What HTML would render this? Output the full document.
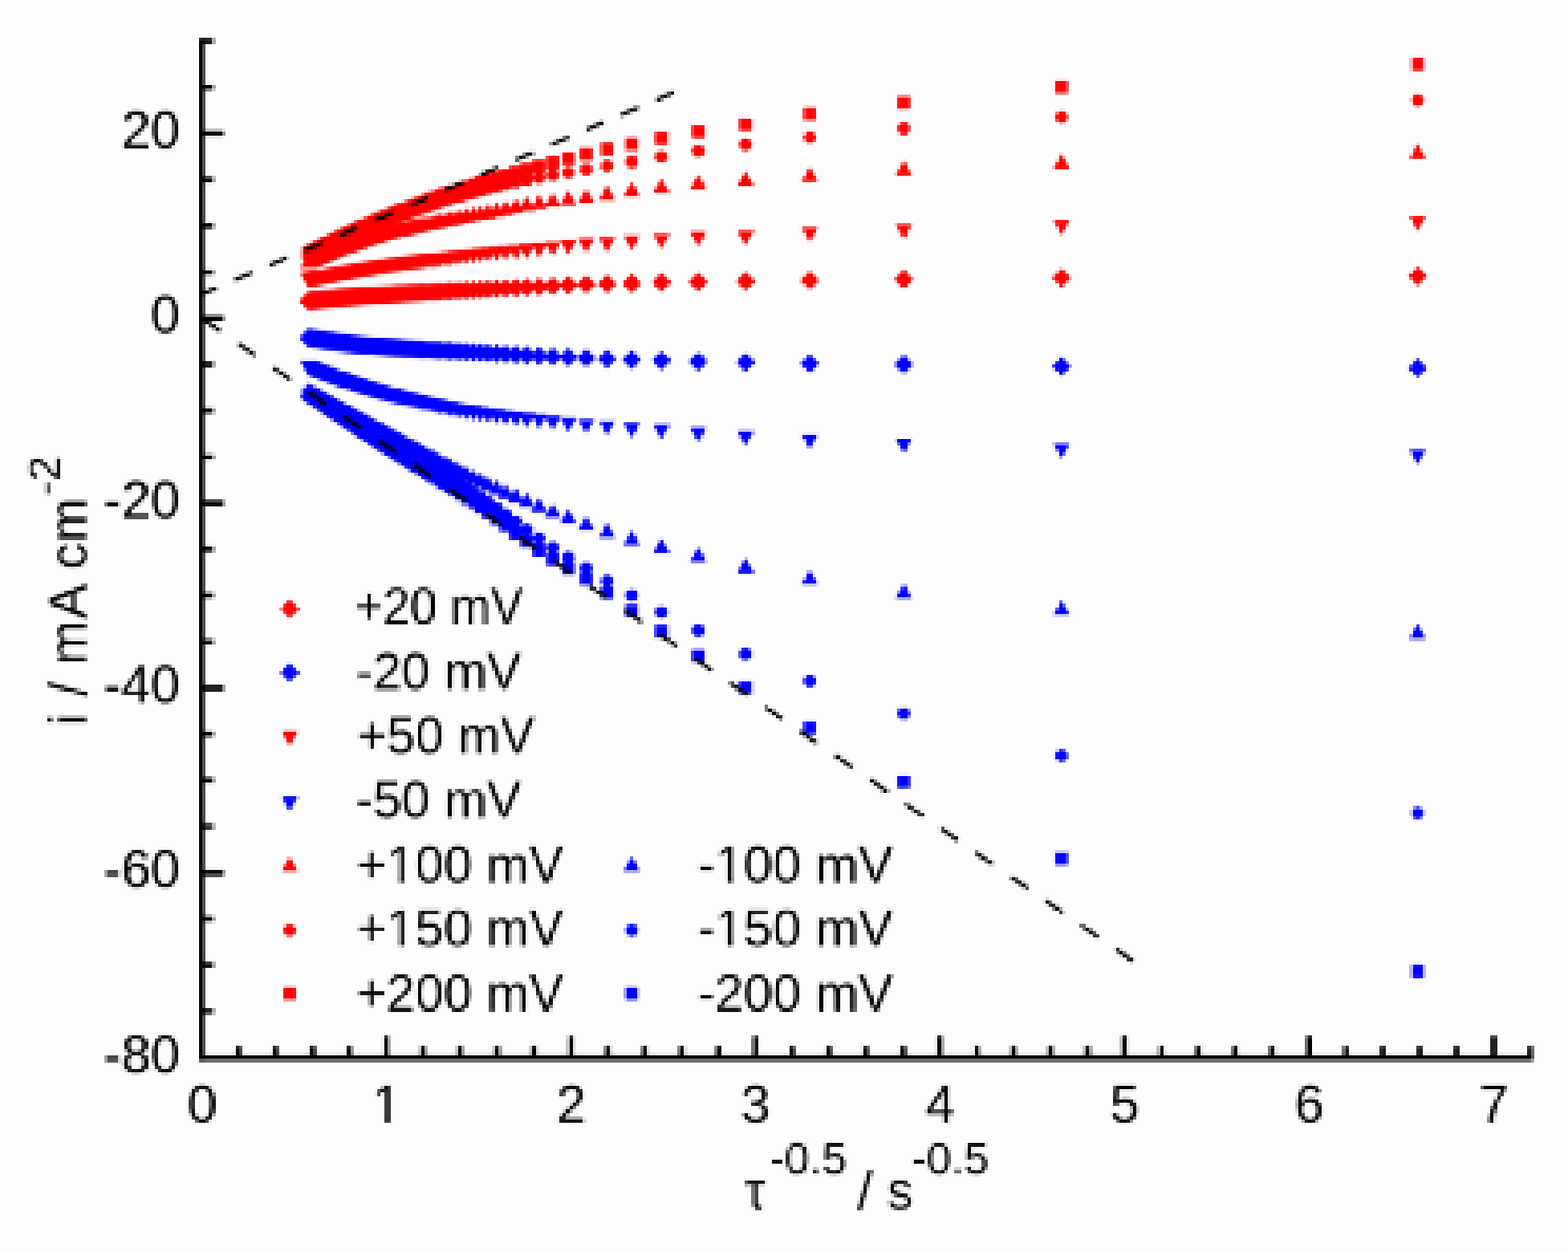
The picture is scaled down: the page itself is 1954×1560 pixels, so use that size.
<!DOCTYPE html>
<html lang="en">
<head>
<meta charset="utf-8">
<title>i / mA cm-2 vs tau-0.5 / s-0.5</title>
<style>
html,body{margin:0;padding:0;background:#fdfdfd;}
body{width:1954px;height:1560px;overflow:hidden;}
svg{display:block;}
text{font-family:"Liberation Sans",Arial,Helvetica,sans-serif;fill:#000;}
.t{font-size:66px;}
.l{font-size:65px;}
.s{font-size:56px;}
</style>
</head>
<body>
<svg width="1954" height="1560" viewBox="0 0 1954 1560">
<defs>
<filter id="b" filterUnits="userSpaceOnUse" primitiveUnits="userSpaceOnUse" x="0" y="0" width="1954" height="1560" color-interpolation-filters="sRGB">
<feGaussianBlur in="SourceGraphic" stdDeviation="1.2" result="avg"/>
<feFlood flood-color="#000" x="2" y="1" width="1" height="21" result="v0"/>
<feFlood flood-color="#000" x="6" y="1" width="1" height="21" result="v1"/>
<feFlood flood-color="#000" x="10" y="1" width="1" height="21" result="v2"/>
<feFlood flood-color="#000" x="14" y="1" width="1" height="21" result="v3"/>
<feFlood flood-color="#000" x="19" y="1" width="1" height="21" result="v4"/>
<feMerge result="vs"><feMergeNode in="v0"/><feMergeNode in="v1"/><feMergeNode in="v2"/><feMergeNode in="v3"/><feMergeNode in="v4"/></feMerge>
<feFlood flood-color="#000" x="0" y="3" width="21" height="1" result="h0"/>
<feFlood flood-color="#000" x="0" y="7" width="21" height="1" result="h1"/>
<feFlood flood-color="#000" x="0" y="11" width="21" height="1" result="h2"/>
<feFlood flood-color="#000" x="0" y="15" width="21" height="1" result="h3"/>
<feFlood flood-color="#000" x="0" y="19" width="21" height="1" result="h4"/>
<feMerge result="hs"><feMergeNode in="h0"/><feMergeNode in="h1"/><feMergeNode in="h2"/><feMergeNode in="h3"/><feMergeNode in="h4"/></feMerge>
<feComposite in="vs" in2="hs" operator="in" x="0" y="1" width="21" height="21" result="cell"/>
<feTile in="cell" x="0" y="1" width="967" height="21" result="blk"/>
<feTile in="blk" x="0" y="0" width="1954" height="1560" result="grid"/>
<feComposite in="avg" in2="grid" operator="in" result="A"/>
<feOffset in="A" dx="2" dy="0" result="x1"/><feOffset in="A" dx="-2" dy="0" result="x2"/><feOffset in="A" dx="-1" dy="0" result="x3"/><feOffset in="A" dx="1" dy="0" result="x4"/>
<feMerge result="Hm"><feMergeNode in="x1"/><feMergeNode in="x2"/><feMergeNode in="x3"/><feMergeNode in="x4"/><feMergeNode in="A"/></feMerge>
<feOffset in="Hm" dx="0" dy="2" result="y1"/><feOffset in="Hm" dx="0" dy="-2" result="y2"/><feOffset in="Hm" dx="0" dy="-1" result="y3"/><feOffset in="Hm" dx="0" dy="1" result="y4"/>
<feMerge result="pix"><feMergeNode in="avg"/><feMergeNode in="y1"/><feMergeNode in="y2"/><feMergeNode in="y3"/><feMergeNode in="y4"/><feMergeNode in="Hm"/></feMerge>
<feGaussianBlur in="pix" stdDeviation="0.45"/>
</filter>
</defs>
<g filter="url(#b)"><g transform="translate(0.4 0.4)">
<rect x="-20" y="-20" width="1994" height="1600" fill="#fdfdfd"/>
<path fill="#ff0000" d="M384.4 363.2l11.8 11.8l-11.8 11.8l-11.8 -11.8zM384.9 363.1l11.8 11.8l-11.8 11.8l-11.8 -11.8zM385.4 363.1l11.8 11.8l-11.8 11.8l-11.8 -11.8zM385.9 363l11.8 11.8l-11.8 11.8l-11.8 -11.8zM386.5 363l11.8 11.8l-11.8 11.8l-11.8 -11.8zM387 362.9l11.8 11.8l-11.8 11.8l-11.8 -11.8zM387.6 362.9l11.8 11.8l-11.8 11.8l-11.8 -11.8zM388.1 362.8l11.8 11.8l-11.8 11.8l-11.8 -11.8zM388.7 362.8l11.8 11.8l-11.8 11.8l-11.8 -11.8zM389.2 362.7l11.8 11.8l-11.8 11.8l-11.8 -11.8zM389.8 362.7l11.8 11.8l-11.8 11.8l-11.8 -11.8zM390.4 362.6l11.8 11.8l-11.8 11.8l-11.8 -11.8zM391 362.6l11.8 11.8l-11.8 11.8l-11.8 -11.8zM391.6 362.5l11.8 11.8l-11.8 11.8l-11.8 -11.8zM392.2 362.4l11.8 11.8l-11.8 11.8l-11.8 -11.8zM392.8 362.4l11.8 11.8l-11.8 11.8l-11.8 -11.8zM393.4 362.3l11.8 11.8l-11.8 11.8l-11.8 -11.8zM394 362.3l11.8 11.8l-11.8 11.8l-11.8 -11.8zM394.7 362.2l11.8 11.8l-11.8 11.8l-11.8 -11.8zM395.3 362.1l11.8 11.8l-11.8 11.8l-11.8 -11.8zM396 362.1l11.8 11.8l-11.8 11.8l-11.8 -11.8zM396.6 362l11.8 11.8l-11.8 11.8l-11.8 -11.8zM397.3 362l11.8 11.8l-11.8 11.8l-11.8 -11.8zM398 361.9l11.8 11.8l-11.8 11.8l-11.8 -11.8zM398.7 361.8l11.8 11.8l-11.8 11.8l-11.8 -11.8zM399.4 361.8l11.8 11.8l-11.8 11.8l-11.8 -11.8zM400.1 361.7l11.8 11.8l-11.8 11.8l-11.8 -11.8zM400.8 361.6l11.8 11.8l-11.8 11.8l-11.8 -11.8zM401.5 361.6l11.8 11.8l-11.8 11.8l-11.8 -11.8zM402.3 361.5l11.8 11.8l-11.8 11.8l-11.8 -11.8zM403 361.4l11.8 11.8l-11.8 11.8l-11.8 -11.8zM403.8 361.4l11.8 11.8l-11.8 11.8l-11.8 -11.8zM404.6 361.3l11.8 11.8l-11.8 11.8l-11.8 -11.8zM405.3 361.2l11.8 11.8l-11.8 11.8l-11.8 -11.8zM406.1 361.1l11.8 11.8l-11.8 11.8l-11.8 -11.8zM407 361.1l11.8 11.8l-11.8 11.8l-11.8 -11.8zM407.8 361l11.8 11.8l-11.8 11.8l-11.8 -11.8zM408.6 360.9l11.8 11.8l-11.8 11.8l-11.8 -11.8zM409.5 360.8l11.8 11.8l-11.8 11.8l-11.8 -11.8zM410.3 360.8l11.8 11.8l-11.8 11.8l-11.8 -11.8zM411.2 360.7l11.8 11.8l-11.8 11.8l-11.8 -11.8zM412.1 360.6l11.8 11.8l-11.8 11.8l-11.8 -11.8zM413 360.5l11.8 11.8l-11.8 11.8l-11.8 -11.8zM413.9 360.4l11.8 11.8l-11.8 11.8l-11.8 -11.8zM414.9 360.4l11.8 11.8l-11.8 11.8l-11.8 -11.8zM415.8 360.3l11.8 11.8l-11.8 11.8l-11.8 -11.8zM416.8 360.2l11.8 11.8l-11.8 11.8l-11.8 -11.8zM417.8 360.1l11.8 11.8l-11.8 11.8l-11.8 -11.8zM418.8 360l11.8 11.8l-11.8 11.8l-11.8 -11.8zM419.8 359.9l11.8 11.8l-11.8 11.8l-11.8 -11.8zM420.9 359.8l11.8 11.8l-11.8 11.8l-11.8 -11.8zM422 359.7l11.8 11.8l-11.8 11.8l-11.8 -11.8zM423.1 359.6l11.8 11.8l-11.8 11.8l-11.8 -11.8zM424.2 359.5l11.8 11.8l-11.8 11.8l-11.8 -11.8zM425.3 359.4l11.8 11.8l-11.8 11.8l-11.8 -11.8zM426.5 359.4l11.8 11.8l-11.8 11.8l-11.8 -11.8zM427.6 359.2l11.8 11.8l-11.8 11.8l-11.8 -11.8zM428.8 359.1l11.8 11.8l-11.8 11.8l-11.8 -11.8zM430.1 359l11.8 11.8l-11.8 11.8l-11.8 -11.8zM431.3 358.9l11.8 11.8l-11.8 11.8l-11.8 -11.8zM432.6 358.8l11.8 11.8l-11.8 11.8l-11.8 -11.8zM433.9 358.7l11.8 11.8l-11.8 11.8l-11.8 -11.8zM435.2 358.6l11.8 11.8l-11.8 11.8l-11.8 -11.8zM436.6 358.5l11.8 11.8l-11.8 11.8l-11.8 -11.8zM438 358.4l11.8 11.8l-11.8 11.8l-11.8 -11.8zM439.4 358.3l11.8 11.8l-11.8 11.8l-11.8 -11.8zM440.9 358.2l11.8 11.8l-11.8 11.8l-11.8 -11.8zM442.4 358l11.8 11.8l-11.8 11.8l-11.8 -11.8zM443.9 357.9l11.8 11.8l-11.8 11.8l-11.8 -11.8zM445.5 357.8l11.8 11.8l-11.8 11.8l-11.8 -11.8zM447.1 357.7l11.8 11.8l-11.8 11.8l-11.8 -11.8zM448.8 357.5l11.8 11.8l-11.8 11.8l-11.8 -11.8zM450.4 357.4l11.8 11.8l-11.8 11.8l-11.8 -11.8zM452.2 357.3l11.8 11.8l-11.8 11.8l-11.8 -11.8zM454 357.1l11.8 11.8l-11.8 11.8l-11.8 -11.8zM455.8 357l11.8 11.8l-11.8 11.8l-11.8 -11.8zM457.7 356.9l11.8 11.8l-11.8 11.8l-11.8 -11.8zM459.6 356.7l11.8 11.8l-11.8 11.8l-11.8 -11.8zM461.6 356.6l11.8 11.8l-11.8 11.8l-11.8 -11.8zM463.7 356.4l11.8 11.8l-11.8 11.8l-11.8 -11.8zM465.8 356.3l11.8 11.8l-11.8 11.8l-11.8 -11.8zM467.9 356.1l11.8 11.8l-11.8 11.8l-11.8 -11.8zM470.2 356l11.8 11.8l-11.8 11.8l-11.8 -11.8zM472.5 355.8l11.8 11.8l-11.8 11.8l-11.8 -11.8zM474.9 355.6l11.8 11.8l-11.8 11.8l-11.8 -11.8zM477.4 355.5l11.8 11.8l-11.8 11.8l-11.8 -11.8zM479.9 355.3l11.8 11.8l-11.8 11.8l-11.8 -11.8zM482.6 355.1l11.8 11.8l-11.8 11.8l-11.8 -11.8zM485.3 355l11.8 11.8l-11.8 11.8l-11.8 -11.8zM488.1 354.8l11.8 11.8l-11.8 11.8l-11.8 -11.8zM491.1 354.6l11.8 11.8l-11.8 11.8l-11.8 -11.8zM494.1 354.4l11.8 11.8l-11.8 11.8l-11.8 -11.8zM497.3 354.2l11.8 11.8l-11.8 11.8l-11.8 -11.8zM500.6 354l11.8 11.8l-11.8 11.8l-11.8 -11.8zM504 353.8l11.8 11.8l-11.8 11.8l-11.8 -11.8zM507.6 353.6l11.8 11.8l-11.8 11.8l-11.8 -11.8zM511.3 353.4l11.8 11.8l-11.8 11.8l-11.8 -11.8zM515.3 353.2l11.8 11.8l-11.8 11.8l-11.8 -11.8zM519.3 353l11.8 11.8l-11.8 11.8l-11.8 -11.8zM523.6 352.8l11.8 11.8l-11.8 11.8l-11.8 -11.8zM528.1 352.5l11.8 11.8l-11.8 11.8l-11.8 -11.8zM532.9 352.3l11.8 11.8l-11.8 11.8l-11.8 -11.8zM537.8 352.1l11.8 11.8l-11.8 11.8l-11.8 -11.8zM543.1 351.8l11.8 11.8l-11.8 11.8l-11.8 -11.8zM548.6 351.5l11.8 11.8l-11.8 11.8l-11.8 -11.8zM554.5 351.2l11.8 11.8l-11.8 11.8l-11.8 -11.8zM560.8 350.9l11.8 11.8l-11.8 11.8l-11.8 -11.8zM567.4 350.6l11.8 11.8l-11.8 11.8l-11.8 -11.8zM574.5 350.3l11.8 11.8l-11.8 11.8l-11.8 -11.8zM582.1 349.9l11.8 11.8l-11.8 11.8l-11.8 -11.8zM590.3 349.5l11.8 11.8l-11.8 11.8l-11.8 -11.8zM599.1 349.1l11.8 11.8l-11.8 11.8l-11.8 -11.8zM608.6 348.6l11.8 11.8l-11.8 11.8l-11.8 -11.8zM619 348.1l11.8 11.8l-11.8 11.8l-11.8 -11.8zM630.3 347.5l11.8 11.8l-11.8 11.8l-11.8 -11.8zM642.7 346.9l11.8 11.8l-11.8 11.8l-11.8 -11.8zM656.4 346.3l11.8 11.8l-11.8 11.8l-11.8 -11.8zM671.7 345.5l11.8 11.8l-11.8 11.8l-11.8 -11.8zM688.9 344.7l11.8 11.8l-11.8 11.8l-11.8 -11.8zM708.3 343.6l11.8 11.8l-11.8 11.8l-11.8 -11.8zM730.6 342.6l11.8 11.8l-11.8 11.8l-11.8 -11.8zM756.5 341.9l11.8 11.8l-11.8 11.8l-11.8 -11.8zM787.2 341.2l11.8 11.8l-11.8 11.8l-11.8 -11.8zM824.2 339.9l11.8 11.8l-11.8 11.8l-11.8 -11.8zM870.1 339.5l11.8 11.8l-11.8 11.8l-11.8 -11.8zM929.1 338.5l11.8 11.8l-11.8 11.8l-11.8 -11.8zM1009.1 337.6l11.8 11.8l-11.8 11.8l-11.8 -11.8zM1126.3 336.2l11.8 11.8l-11.8 11.8l-11.8 -11.8zM1322.9 334.2l11.8 11.8l-11.8 11.8l-11.8 -11.8zM1766.6 332.2l11.8 11.8l-11.8 11.8l-11.8 -11.8z"/>
<path fill="#0000ff" d="M384.4 409.2l11.8 11.8l-11.8 11.8l-11.8 -11.8zM384.9 409.3l11.8 11.8l-11.8 11.8l-11.8 -11.8zM385.4 409.4l11.8 11.8l-11.8 11.8l-11.8 -11.8zM385.9 409.5l11.8 11.8l-11.8 11.8l-11.8 -11.8zM386.5 409.5l11.8 11.8l-11.8 11.8l-11.8 -11.8zM387 409.6l11.8 11.8l-11.8 11.8l-11.8 -11.8zM387.6 409.7l11.8 11.8l-11.8 11.8l-11.8 -11.8zM388.1 409.8l11.8 11.8l-11.8 11.8l-11.8 -11.8zM388.7 409.9l11.8 11.8l-11.8 11.8l-11.8 -11.8zM389.2 409.9l11.8 11.8l-11.8 11.8l-11.8 -11.8zM389.8 410l11.8 11.8l-11.8 11.8l-11.8 -11.8zM390.4 410.1l11.8 11.8l-11.8 11.8l-11.8 -11.8zM391 410.2l11.8 11.8l-11.8 11.8l-11.8 -11.8zM391.6 410.3l11.8 11.8l-11.8 11.8l-11.8 -11.8zM392.2 410.4l11.8 11.8l-11.8 11.8l-11.8 -11.8zM392.8 410.5l11.8 11.8l-11.8 11.8l-11.8 -11.8zM393.4 410.6l11.8 11.8l-11.8 11.8l-11.8 -11.8zM394 410.6l11.8 11.8l-11.8 11.8l-11.8 -11.8zM394.7 410.7l11.8 11.8l-11.8 11.8l-11.8 -11.8zM395.3 410.8l11.8 11.8l-11.8 11.8l-11.8 -11.8zM396 410.9l11.8 11.8l-11.8 11.8l-11.8 -11.8zM396.6 411l11.8 11.8l-11.8 11.8l-11.8 -11.8zM397.3 411.1l11.8 11.8l-11.8 11.8l-11.8 -11.8zM398 411.2l11.8 11.8l-11.8 11.8l-11.8 -11.8zM398.7 411.3l11.8 11.8l-11.8 11.8l-11.8 -11.8zM399.4 411.4l11.8 11.8l-11.8 11.8l-11.8 -11.8zM400.1 411.5l11.8 11.8l-11.8 11.8l-11.8 -11.8zM400.8 411.6l11.8 11.8l-11.8 11.8l-11.8 -11.8zM401.5 411.7l11.8 11.8l-11.8 11.8l-11.8 -11.8zM402.3 411.8l11.8 11.8l-11.8 11.8l-11.8 -11.8zM403 411.9l11.8 11.8l-11.8 11.8l-11.8 -11.8zM403.8 412l11.8 11.8l-11.8 11.8l-11.8 -11.8zM404.6 412.2l11.8 11.8l-11.8 11.8l-11.8 -11.8zM405.3 412.3l11.8 11.8l-11.8 11.8l-11.8 -11.8zM406.1 412.4l11.8 11.8l-11.8 11.8l-11.8 -11.8zM407 412.5l11.8 11.8l-11.8 11.8l-11.8 -11.8zM407.8 412.6l11.8 11.8l-11.8 11.8l-11.8 -11.8zM408.6 412.7l11.8 11.8l-11.8 11.8l-11.8 -11.8zM409.5 412.8l11.8 11.8l-11.8 11.8l-11.8 -11.8zM410.3 413l11.8 11.8l-11.8 11.8l-11.8 -11.8zM411.2 413.1l11.8 11.8l-11.8 11.8l-11.8 -11.8zM412.1 413.2l11.8 11.8l-11.8 11.8l-11.8 -11.8zM413 413.3l11.8 11.8l-11.8 11.8l-11.8 -11.8zM413.9 413.4l11.8 11.8l-11.8 11.8l-11.8 -11.8zM414.9 413.6l11.8 11.8l-11.8 11.8l-11.8 -11.8zM415.8 413.7l11.8 11.8l-11.8 11.8l-11.8 -11.8zM416.8 413.8l11.8 11.8l-11.8 11.8l-11.8 -11.8zM417.8 414l11.8 11.8l-11.8 11.8l-11.8 -11.8zM418.8 414.1l11.8 11.8l-11.8 11.8l-11.8 -11.8zM419.8 414.2l11.8 11.8l-11.8 11.8l-11.8 -11.8zM420.9 414.4l11.8 11.8l-11.8 11.8l-11.8 -11.8zM422 414.5l11.8 11.8l-11.8 11.8l-11.8 -11.8zM423.1 414.7l11.8 11.8l-11.8 11.8l-11.8 -11.8zM424.2 414.8l11.8 11.8l-11.8 11.8l-11.8 -11.8zM425.3 414.9l11.8 11.8l-11.8 11.8l-11.8 -11.8zM426.5 415.1l11.8 11.8l-11.8 11.8l-11.8 -11.8zM427.6 415.2l11.8 11.8l-11.8 11.8l-11.8 -11.8zM428.8 415.4l11.8 11.8l-11.8 11.8l-11.8 -11.8zM430.1 415.6l11.8 11.8l-11.8 11.8l-11.8 -11.8zM431.3 415.7l11.8 11.8l-11.8 11.8l-11.8 -11.8zM432.6 415.9l11.8 11.8l-11.8 11.8l-11.8 -11.8zM433.9 416l11.8 11.8l-11.8 11.8l-11.8 -11.8zM435.2 416.2l11.8 11.8l-11.8 11.8l-11.8 -11.8zM436.6 416.4l11.8 11.8l-11.8 11.8l-11.8 -11.8zM438 416.5l11.8 11.8l-11.8 11.8l-11.8 -11.8zM439.4 416.7l11.8 11.8l-11.8 11.8l-11.8 -11.8zM440.9 416.9l11.8 11.8l-11.8 11.8l-11.8 -11.8zM442.4 417l11.8 11.8l-11.8 11.8l-11.8 -11.8zM443.9 417.2l11.8 11.8l-11.8 11.8l-11.8 -11.8zM445.5 417.4l11.8 11.8l-11.8 11.8l-11.8 -11.8zM447.1 417.6l11.8 11.8l-11.8 11.8l-11.8 -11.8zM448.8 417.8l11.8 11.8l-11.8 11.8l-11.8 -11.8zM450.4 418l11.8 11.8l-11.8 11.8l-11.8 -11.8zM452.2 418.1l11.8 11.8l-11.8 11.8l-11.8 -11.8zM454 418.3l11.8 11.8l-11.8 11.8l-11.8 -11.8zM455.8 418.5l11.8 11.8l-11.8 11.8l-11.8 -11.8zM457.7 418.7l11.8 11.8l-11.8 11.8l-11.8 -11.8zM459.6 418.9l11.8 11.8l-11.8 11.8l-11.8 -11.8zM461.6 419.1l11.8 11.8l-11.8 11.8l-11.8 -11.8zM463.7 419.3l11.8 11.8l-11.8 11.8l-11.8 -11.8zM465.8 419.5l11.8 11.8l-11.8 11.8l-11.8 -11.8zM467.9 419.7l11.8 11.8l-11.8 11.8l-11.8 -11.8zM470.2 419.9l11.8 11.8l-11.8 11.8l-11.8 -11.8zM472.5 420.1l11.8 11.8l-11.8 11.8l-11.8 -11.8zM474.9 420.4l11.8 11.8l-11.8 11.8l-11.8 -11.8zM477.4 420.6l11.8 11.8l-11.8 11.8l-11.8 -11.8zM479.9 420.8l11.8 11.8l-11.8 11.8l-11.8 -11.8zM482.6 421l11.8 11.8l-11.8 11.8l-11.8 -11.8zM485.3 421.2l11.8 11.8l-11.8 11.8l-11.8 -11.8zM488.1 421.4l11.8 11.8l-11.8 11.8l-11.8 -11.8zM491.1 421.6l11.8 11.8l-11.8 11.8l-11.8 -11.8zM494.1 421.9l11.8 11.8l-11.8 11.8l-11.8 -11.8zM497.3 422.1l11.8 11.8l-11.8 11.8l-11.8 -11.8zM500.6 422.3l11.8 11.8l-11.8 11.8l-11.8 -11.8zM504 422.5l11.8 11.8l-11.8 11.8l-11.8 -11.8zM507.6 422.8l11.8 11.8l-11.8 11.8l-11.8 -11.8zM511.3 423l11.8 11.8l-11.8 11.8l-11.8 -11.8zM515.3 423.2l11.8 11.8l-11.8 11.8l-11.8 -11.8zM519.3 423.5l11.8 11.8l-11.8 11.8l-11.8 -11.8zM523.6 423.7l11.8 11.8l-11.8 11.8l-11.8 -11.8zM528.1 424l11.8 11.8l-11.8 11.8l-11.8 -11.8zM532.9 424.3l11.8 11.8l-11.8 11.8l-11.8 -11.8zM537.8 424.5l11.8 11.8l-11.8 11.8l-11.8 -11.8zM543.1 424.8l11.8 11.8l-11.8 11.8l-11.8 -11.8zM548.6 425.1l11.8 11.8l-11.8 11.8l-11.8 -11.8zM554.5 425.4l11.8 11.8l-11.8 11.8l-11.8 -11.8zM560.8 425.7l11.8 11.8l-11.8 11.8l-11.8 -11.8zM567.4 426.1l11.8 11.8l-11.8 11.8l-11.8 -11.8zM574.5 426.4l11.8 11.8l-11.8 11.8l-11.8 -11.8zM582.1 426.8l11.8 11.8l-11.8 11.8l-11.8 -11.8zM590.3 427.3l11.8 11.8l-11.8 11.8l-11.8 -11.8zM599.1 427.7l11.8 11.8l-11.8 11.8l-11.8 -11.8zM608.6 428.3l11.8 11.8l-11.8 11.8l-11.8 -11.8zM619 428.9l11.8 11.8l-11.8 11.8l-11.8 -11.8zM630.3 429.5l11.8 11.8l-11.8 11.8l-11.8 -11.8zM642.7 430.2l11.8 11.8l-11.8 11.8l-11.8 -11.8zM656.4 430.9l11.8 11.8l-11.8 11.8l-11.8 -11.8zM671.7 431.7l11.8 11.8l-11.8 11.8l-11.8 -11.8zM688.9 432.5l11.8 11.8l-11.8 11.8l-11.8 -11.8zM708.3 433.3l11.8 11.8l-11.8 11.8l-11.8 -11.8zM730.6 434.2l11.8 11.8l-11.8 11.8l-11.8 -11.8zM756.5 435.4l11.8 11.8l-11.8 11.8l-11.8 -11.8zM787.2 436.2l11.8 11.8l-11.8 11.8l-11.8 -11.8zM824.2 437.4l11.8 11.8l-11.8 11.8l-11.8 -11.8zM870.1 438.5l11.8 11.8l-11.8 11.8l-11.8 -11.8zM929.1 439.5l11.8 11.8l-11.8 11.8l-11.8 -11.8zM1009.1 441.2l11.8 11.8l-11.8 11.8l-11.8 -11.8zM1126.3 442.2l11.8 11.8l-11.8 11.8l-11.8 -11.8zM1322.9 444.7l11.8 11.8l-11.8 11.8l-11.8 -11.8zM1766.6 446.7l11.8 11.8l-11.8 11.8l-11.8 -11.8z"/>
<path fill="#ff0000" d="M384.4 358.4l10.2 -18.4h-20.4zM384.9 358.3l10.2 -18.4h-20.4zM385.4 358.2l10.2 -18.4h-20.4zM385.9 358.1l10.2 -18.4h-20.4zM386.5 358l10.2 -18.4h-20.4zM387 357.9l10.2 -18.4h-20.4zM387.6 357.8l10.2 -18.4h-20.4zM388.1 357.6l10.2 -18.4h-20.4zM388.7 357.5l10.2 -18.4h-20.4zM389.2 357.4l10.2 -18.4h-20.4zM389.8 357.3l10.2 -18.4h-20.4zM390.4 357.2l10.2 -18.4h-20.4zM391 357.1l10.2 -18.4h-20.4zM391.6 357l10.2 -18.4h-20.4zM392.2 356.9l10.2 -18.4h-20.4zM392.8 356.8l10.2 -18.4h-20.4zM393.4 356.6l10.2 -18.4h-20.4zM394 356.5l10.2 -18.4h-20.4zM394.7 356.4l10.2 -18.4h-20.4zM395.3 356.3l10.2 -18.4h-20.4zM396 356.2l10.2 -18.4h-20.4zM396.6 356l10.2 -18.4h-20.4zM397.3 355.9l10.2 -18.4h-20.4zM398 355.8l10.2 -18.4h-20.4zM398.7 355.7l10.2 -18.4h-20.4zM399.4 355.5l10.2 -18.4h-20.4zM400.1 355.4l10.2 -18.4h-20.4zM400.8 355.3l10.2 -18.4h-20.4zM401.5 355.1l10.2 -18.4h-20.4zM402.3 355l10.2 -18.4h-20.4zM403 354.9l10.2 -18.4h-20.4zM403.8 354.7l10.2 -18.4h-20.4zM404.6 354.6l10.2 -18.4h-20.4zM405.3 354.4l10.2 -18.4h-20.4zM406.1 354.3l10.2 -18.4h-20.4zM407 354.1l10.2 -18.4h-20.4zM407.8 354l10.2 -18.4h-20.4zM408.6 353.8l10.2 -18.4h-20.4zM409.5 353.7l10.2 -18.4h-20.4zM410.3 353.5l10.2 -18.4h-20.4zM411.2 353.4l10.2 -18.4h-20.4zM412.1 353.2l10.2 -18.4h-20.4zM413 353l10.2 -18.4h-20.4zM413.9 352.9l10.2 -18.4h-20.4zM414.9 352.7l10.2 -18.4h-20.4zM415.8 352.5l10.2 -18.4h-20.4zM416.8 352.4l10.2 -18.4h-20.4zM417.8 352.2l10.2 -18.4h-20.4zM418.8 352l10.2 -18.4h-20.4zM419.8 351.8l10.2 -18.4h-20.4zM420.9 351.6l10.2 -18.4h-20.4zM422 351.4l10.2 -18.4h-20.4zM423.1 351.2l10.2 -18.4h-20.4zM424.2 351l10.2 -18.4h-20.4zM425.3 350.9l10.2 -18.4h-20.4zM426.5 350.7l10.2 -18.4h-20.4zM427.6 350.4l10.2 -18.4h-20.4zM428.8 350.2l10.2 -18.4h-20.4zM430.1 350l10.2 -18.4h-20.4zM431.3 349.8l10.2 -18.4h-20.4zM432.6 349.6l10.2 -18.4h-20.4zM433.9 349.4l10.2 -18.4h-20.4zM435.2 349.1l10.2 -18.4h-20.4zM436.6 348.9l10.2 -18.4h-20.4zM438 348.7l10.2 -18.4h-20.4zM439.4 348.4l10.2 -18.4h-20.4zM440.9 348.2l10.2 -18.4h-20.4zM442.4 347.9l10.2 -18.4h-20.4zM443.9 347.7l10.2 -18.4h-20.4zM445.5 347.4l10.2 -18.4h-20.4zM447.1 347.2l10.2 -18.4h-20.4zM448.8 346.9l10.2 -18.4h-20.4zM450.4 346.6l10.2 -18.4h-20.4zM452.2 346.3l10.2 -18.4h-20.4zM454 346.1l10.2 -18.4h-20.4zM455.8 345.8l10.2 -18.4h-20.4zM457.7 345.5l10.2 -18.4h-20.4zM459.6 345.2l10.2 -18.4h-20.4zM461.6 344.9l10.2 -18.4h-20.4zM463.7 344.5l10.2 -18.4h-20.4zM465.8 344.2l10.2 -18.4h-20.4zM467.9 343.9l10.2 -18.4h-20.4zM470.2 343.5l10.2 -18.4h-20.4zM472.5 343.2l10.2 -18.4h-20.4zM474.9 342.8l10.2 -18.4h-20.4zM477.4 342.5l10.2 -18.4h-20.4zM479.9 342.1l10.2 -18.4h-20.4zM482.6 341.7l10.2 -18.4h-20.4zM485.3 341.4l10.2 -18.4h-20.4zM488.1 341l10.2 -18.4h-20.4zM491.1 340.5l10.2 -18.4h-20.4zM494.1 340.1l10.2 -18.4h-20.4zM497.3 339.7l10.2 -18.4h-20.4zM500.6 339.2l10.2 -18.4h-20.4zM504 338.8l10.2 -18.4h-20.4zM507.6 338.3l10.2 -18.4h-20.4zM511.3 337.8l10.2 -18.4h-20.4zM515.3 337.3l10.2 -18.4h-20.4zM519.3 336.8l10.2 -18.4h-20.4zM523.6 336.2l10.2 -18.4h-20.4zM528.1 335.7l10.2 -18.4h-20.4zM532.9 335.1l10.2 -18.4h-20.4zM537.8 334.5l10.2 -18.4h-20.4zM543.1 333.8l10.2 -18.4h-20.4zM548.6 333.2l10.2 -18.4h-20.4zM554.5 332.5l10.2 -18.4h-20.4zM560.8 331.7l10.2 -18.4h-20.4zM567.4 331l10.2 -18.4h-20.4zM574.5 330.2l10.2 -18.4h-20.4zM582.1 329.4l10.2 -18.4h-20.4zM590.3 328.5l10.2 -18.4h-20.4zM599.1 327.6l10.2 -18.4h-20.4zM608.6 326.7l10.2 -18.4h-20.4zM619 325.8l10.2 -18.4h-20.4zM630.3 324.8l10.2 -18.4h-20.4zM642.7 323.7l10.2 -18.4h-20.4zM656.4 322.6l10.2 -18.4h-20.4zM671.7 321.3l10.2 -18.4h-20.4zM688.9 319.7l10.2 -18.4h-20.4zM708.3 317.6l10.2 -18.4h-20.4zM730.6 315.5l10.2 -18.4h-20.4zM756.5 314.4l10.2 -18.4h-20.4zM787.2 311.5l10.2 -18.4h-20.4zM824.2 309.9l10.2 -18.4h-20.4zM870.1 306.9l10.2 -18.4h-20.4zM929.1 305.9l10.2 -18.4h-20.4zM1009.1 301.9l10.2 -18.4h-20.4zM1126.3 297.9l10.2 -18.4h-20.4zM1322.9 292.9l10.2 -18.4h-20.4zM1766.6 287.9l10.2 -18.4h-20.4z"/>
<path fill="#0000ff" d="M384.4 468l10.2 -18.4h-20.4zM384.9 468.2l10.2 -18.4h-20.4zM385.4 468.4l10.2 -18.4h-20.4zM385.9 468.6l10.2 -18.4h-20.4zM386.5 468.8l10.2 -18.4h-20.4zM387 469l10.2 -18.4h-20.4zM387.6 469.2l10.2 -18.4h-20.4zM388.1 469.5l10.2 -18.4h-20.4zM388.7 469.7l10.2 -18.4h-20.4zM389.2 469.9l10.2 -18.4h-20.4zM389.8 470.1l10.2 -18.4h-20.4zM390.4 470.4l10.2 -18.4h-20.4zM391 470.6l10.2 -18.4h-20.4zM391.6 470.8l10.2 -18.4h-20.4zM392.2 471l10.2 -18.4h-20.4zM392.8 471.3l10.2 -18.4h-20.4zM393.4 471.5l10.2 -18.4h-20.4zM394 471.8l10.2 -18.4h-20.4zM394.7 472l10.2 -18.4h-20.4zM395.3 472.3l10.2 -18.4h-20.4zM396 472.5l10.2 -18.4h-20.4zM396.6 472.8l10.2 -18.4h-20.4zM397.3 473l10.2 -18.4h-20.4zM398 473.3l10.2 -18.4h-20.4zM398.7 473.6l10.2 -18.4h-20.4zM399.4 473.8l10.2 -18.4h-20.4zM400.1 474.1l10.2 -18.4h-20.4zM400.8 474.4l10.2 -18.4h-20.4zM401.5 474.7l10.2 -18.4h-20.4zM402.3 474.9l10.2 -18.4h-20.4zM403 475.2l10.2 -18.4h-20.4zM403.8 475.5l10.2 -18.4h-20.4zM404.6 475.8l10.2 -18.4h-20.4zM405.3 476.1l10.2 -18.4h-20.4zM406.1 476.4l10.2 -18.4h-20.4zM407 476.7l10.2 -18.4h-20.4zM407.8 477l10.2 -18.4h-20.4zM408.6 477.3l10.2 -18.4h-20.4zM409.5 477.6l10.2 -18.4h-20.4zM410.3 478l10.2 -18.4h-20.4zM411.2 478.3l10.2 -18.4h-20.4zM412.1 478.6l10.2 -18.4h-20.4zM413 479l10.2 -18.4h-20.4zM413.9 479.3l10.2 -18.4h-20.4zM414.9 479.7l10.2 -18.4h-20.4zM415.8 480l10.2 -18.4h-20.4zM416.8 480.4l10.2 -18.4h-20.4zM417.8 480.7l10.2 -18.4h-20.4zM418.8 481.1l10.2 -18.4h-20.4zM419.8 481.5l10.2 -18.4h-20.4zM420.9 481.8l10.2 -18.4h-20.4zM422 482.2l10.2 -18.4h-20.4zM423.1 482.6l10.2 -18.4h-20.4zM424.2 483l10.2 -18.4h-20.4zM425.3 483.4l10.2 -18.4h-20.4zM426.5 483.8l10.2 -18.4h-20.4zM427.6 484.2l10.2 -18.4h-20.4zM428.8 484.6l10.2 -18.4h-20.4zM430.1 485.1l10.2 -18.4h-20.4zM431.3 485.5l10.2 -18.4h-20.4zM432.6 485.9l10.2 -18.4h-20.4zM433.9 486.4l10.2 -18.4h-20.4zM435.2 486.9l10.2 -18.4h-20.4zM436.6 487.3l10.2 -18.4h-20.4zM438 487.8l10.2 -18.4h-20.4zM439.4 488.3l10.2 -18.4h-20.4zM440.9 488.8l10.2 -18.4h-20.4zM442.4 489.3l10.2 -18.4h-20.4zM443.9 489.8l10.2 -18.4h-20.4zM445.5 490.3l10.2 -18.4h-20.4zM447.1 490.8l10.2 -18.4h-20.4zM448.8 491.3l10.2 -18.4h-20.4zM450.4 491.9l10.2 -18.4h-20.4zM452.2 492.4l10.2 -18.4h-20.4zM454 493l10.2 -18.4h-20.4zM455.8 493.5l10.2 -18.4h-20.4zM457.7 494.1l10.2 -18.4h-20.4zM459.6 494.7l10.2 -18.4h-20.4zM461.6 495.3l10.2 -18.4h-20.4zM463.7 495.9l10.2 -18.4h-20.4zM465.8 496.5l10.2 -18.4h-20.4zM467.9 497.2l10.2 -18.4h-20.4zM470.2 497.8l10.2 -18.4h-20.4zM472.5 498.5l10.2 -18.4h-20.4zM474.9 499.1l10.2 -18.4h-20.4zM477.4 499.8l10.2 -18.4h-20.4zM479.9 500.5l10.2 -18.4h-20.4zM482.6 501.2l10.2 -18.4h-20.4zM485.3 501.9l10.2 -18.4h-20.4zM488.1 502.6l10.2 -18.4h-20.4zM491.1 503.4l10.2 -18.4h-20.4zM494.1 504.2l10.2 -18.4h-20.4zM497.3 505l10.2 -18.4h-20.4zM500.6 505.8l10.2 -18.4h-20.4zM504 506.7l10.2 -18.4h-20.4zM507.6 507.5l10.2 -18.4h-20.4zM511.3 508.4l10.2 -18.4h-20.4zM515.3 509.4l10.2 -18.4h-20.4zM519.3 510.3l10.2 -18.4h-20.4zM523.6 511.3l10.2 -18.4h-20.4zM528.1 512.4l10.2 -18.4h-20.4zM532.9 513.4l10.2 -18.4h-20.4zM537.8 514.5l10.2 -18.4h-20.4zM543.1 515.6l10.2 -18.4h-20.4zM548.6 516.8l10.2 -18.4h-20.4zM554.5 518l10.2 -18.4h-20.4zM560.8 519.2l10.2 -18.4h-20.4zM567.4 520.5l10.2 -18.4h-20.4zM574.5 521.8l10.2 -18.4h-20.4zM582.1 523.1l10.2 -18.4h-20.4zM590.3 524.4l10.2 -18.4h-20.4zM599.1 525.8l10.2 -18.4h-20.4zM608.6 527.2l10.2 -18.4h-20.4zM619 528.6l10.2 -18.4h-20.4zM630.3 530l10.2 -18.4h-20.4zM642.7 531.4l10.2 -18.4h-20.4zM656.4 533l10.2 -18.4h-20.4zM671.7 534.6l10.2 -18.4h-20.4zM688.9 536.5l10.2 -18.4h-20.4zM708.3 538.7l10.2 -18.4h-20.4zM730.6 540.9l10.2 -18.4h-20.4zM756.5 542.7l10.2 -18.4h-20.4zM787.2 545.4l10.2 -18.4h-20.4zM824.2 547.3l10.2 -18.4h-20.4zM870.1 550.9l10.2 -18.4h-20.4zM929.1 555.5l10.2 -18.4h-20.4zM1009.1 559.9l10.2 -18.4h-20.4zM1126.3 564.9l10.2 -18.4h-20.4zM1322.9 571.4l10.2 -18.4h-20.4zM1766.6 578.9l10.2 -18.4h-20.4z"/>
<path fill="#ff0000" d="M384.4 315.5l10.2 18.4h-20.4zM384.9 315.3l10.2 18.4h-20.4zM385.4 315.1l10.2 18.4h-20.4zM385.9 314.8l10.2 18.4h-20.4zM386.5 314.6l10.2 18.4h-20.4zM387 314.4l10.2 18.4h-20.4zM387.6 314.1l10.2 18.4h-20.4zM388.1 313.9l10.2 18.4h-20.4zM388.7 313.6l10.2 18.4h-20.4zM389.2 313.4l10.2 18.4h-20.4zM389.8 313.2l10.2 18.4h-20.4zM390.4 312.9l10.2 18.4h-20.4zM391 312.7l10.2 18.4h-20.4zM391.6 312.4l10.2 18.4h-20.4zM392.2 312.1l10.2 18.4h-20.4zM392.8 311.9l10.2 18.4h-20.4zM393.4 311.6l10.2 18.4h-20.4zM394 311.3l10.2 18.4h-20.4zM394.7 311.1l10.2 18.4h-20.4zM395.3 310.8l10.2 18.4h-20.4zM396 310.5l10.2 18.4h-20.4zM396.6 310.2l10.2 18.4h-20.4zM397.3 310l10.2 18.4h-20.4zM398 309.7l10.2 18.4h-20.4zM398.7 309.4l10.2 18.4h-20.4zM399.4 309.1l10.2 18.4h-20.4zM400.1 308.8l10.2 18.4h-20.4zM400.8 308.5l10.2 18.4h-20.4zM401.5 308.2l10.2 18.4h-20.4zM402.3 307.9l10.2 18.4h-20.4zM403 307.6l10.2 18.4h-20.4zM403.8 307.2l10.2 18.4h-20.4zM404.6 306.9l10.2 18.4h-20.4zM405.3 306.6l10.2 18.4h-20.4zM406.1 306.3l10.2 18.4h-20.4zM407 305.9l10.2 18.4h-20.4zM407.8 305.6l10.2 18.4h-20.4zM408.6 305.3l10.2 18.4h-20.4zM409.5 304.9l10.2 18.4h-20.4zM410.3 304.6l10.2 18.4h-20.4zM411.2 304.2l10.2 18.4h-20.4zM412.1 303.8l10.2 18.4h-20.4zM413 303.5l10.2 18.4h-20.4zM413.9 303.1l10.2 18.4h-20.4zM414.9 302.7l10.2 18.4h-20.4zM415.8 302.3l10.2 18.4h-20.4zM416.8 301.9l10.2 18.4h-20.4zM417.8 301.6l10.2 18.4h-20.4zM418.8 301.2l10.2 18.4h-20.4zM419.8 300.8l10.2 18.4h-20.4zM420.9 300.3l10.2 18.4h-20.4zM422 299.9l10.2 18.4h-20.4zM423.1 299.5l10.2 18.4h-20.4zM424.2 299.1l10.2 18.4h-20.4zM425.3 298.6l10.2 18.4h-20.4zM426.5 298.2l10.2 18.4h-20.4zM427.6 297.7l10.2 18.4h-20.4zM428.8 297.3l10.2 18.4h-20.4zM430.1 296.8l10.2 18.4h-20.4zM431.3 296.4l10.2 18.4h-20.4zM432.6 295.9l10.2 18.4h-20.4zM433.9 295.4l10.2 18.4h-20.4zM435.2 294.9l10.2 18.4h-20.4zM436.6 294.4l10.2 18.4h-20.4zM438 293.9l10.2 18.4h-20.4zM439.4 293.4l10.2 18.4h-20.4zM440.9 292.9l10.2 18.4h-20.4zM442.4 292.3l10.2 18.4h-20.4zM443.9 291.8l10.2 18.4h-20.4zM445.5 291.2l10.2 18.4h-20.4zM447.1 290.7l10.2 18.4h-20.4zM448.8 290.1l10.2 18.4h-20.4zM450.4 289.5l10.2 18.4h-20.4zM452.2 288.9l10.2 18.4h-20.4zM454 288.4l10.2 18.4h-20.4zM455.8 287.8l10.2 18.4h-20.4zM457.7 287.1l10.2 18.4h-20.4zM459.6 286.5l10.2 18.4h-20.4zM461.6 285.9l10.2 18.4h-20.4zM463.7 285.2l10.2 18.4h-20.4zM465.8 284.6l10.2 18.4h-20.4zM467.9 283.9l10.2 18.4h-20.4zM470.2 283.3l10.2 18.4h-20.4zM472.5 282.6l10.2 18.4h-20.4zM474.9 281.9l10.2 18.4h-20.4zM477.4 281.2l10.2 18.4h-20.4zM479.9 280.5l10.2 18.4h-20.4zM482.6 279.8l10.2 18.4h-20.4zM485.3 279.1l10.2 18.4h-20.4zM488.1 278.4l10.2 18.4h-20.4zM491.1 277.6l10.2 18.4h-20.4zM494.1 276.8l10.2 18.4h-20.4zM497.3 276.1l10.2 18.4h-20.4zM500.6 275.3l10.2 18.4h-20.4zM504 274.5l10.2 18.4h-20.4zM507.6 273.7l10.2 18.4h-20.4zM511.3 272.8l10.2 18.4h-20.4zM515.3 271.9l10.2 18.4h-20.4zM519.3 271.1l10.2 18.4h-20.4zM523.6 270.2l10.2 18.4h-20.4zM528.1 269.2l10.2 18.4h-20.4zM532.9 268.3l10.2 18.4h-20.4zM537.8 267.3l10.2 18.4h-20.4zM543.1 266.2l10.2 18.4h-20.4zM548.6 265.1l10.2 18.4h-20.4zM554.5 264l10.2 18.4h-20.4zM560.8 262.8l10.2 18.4h-20.4zM567.4 261.6l10.2 18.4h-20.4zM574.5 260.3l10.2 18.4h-20.4zM582.1 258.8l10.2 18.4h-20.4zM590.3 257.3l10.2 18.4h-20.4zM599.1 255.6l10.2 18.4h-20.4zM608.6 253.7l10.2 18.4h-20.4zM619 251.6l10.2 18.4h-20.4zM630.3 249.4l10.2 18.4h-20.4zM642.7 247l10.2 18.4h-20.4zM656.4 244.4l10.2 18.4h-20.4zM671.7 241.8l10.2 18.4h-20.4zM688.9 239.3l10.2 18.4h-20.4zM708.3 237.1l10.2 18.4h-20.4zM730.6 234.7l10.2 18.4h-20.4zM756.5 230.6l10.2 18.4h-20.4zM787.2 226.5l10.2 18.4h-20.4zM824.2 222.1l10.2 18.4h-20.4zM870.1 217.7l10.2 18.4h-20.4zM929.1 213.1l10.2 18.4h-20.4zM1009.1 207.6l10.2 18.4h-20.4zM1126.3 200.1l10.2 18.4h-20.4zM1322.9 191.6l10.2 18.4h-20.4zM1766.6 179.1l10.2 18.4h-20.4z"/>
<path fill="#0000ff" d="M384.4 477.2l10.2 18.4h-20.4zM384.9 477.5l10.2 18.4h-20.4zM385.4 477.8l10.2 18.4h-20.4zM385.9 478.1l10.2 18.4h-20.4zM386.5 478.4l10.2 18.4h-20.4zM387 478.6l10.2 18.4h-20.4zM387.6 478.9l10.2 18.4h-20.4zM388.1 479.2l10.2 18.4h-20.4zM388.7 479.6l10.2 18.4h-20.4zM389.2 479.9l10.2 18.4h-20.4zM389.8 480.2l10.2 18.4h-20.4zM390.4 480.5l10.2 18.4h-20.4zM391 480.8l10.2 18.4h-20.4zM391.6 481.1l10.2 18.4h-20.4zM392.2 481.5l10.2 18.4h-20.4zM392.8 481.8l10.2 18.4h-20.4zM393.4 482.1l10.2 18.4h-20.4zM394 482.5l10.2 18.4h-20.4zM394.7 482.8l10.2 18.4h-20.4zM395.3 483.2l10.2 18.4h-20.4zM396 483.5l10.2 18.4h-20.4zM396.6 483.9l10.2 18.4h-20.4zM397.3 484.2l10.2 18.4h-20.4zM398 484.6l10.2 18.4h-20.4zM398.7 485l10.2 18.4h-20.4zM399.4 485.4l10.2 18.4h-20.4zM400.1 485.8l10.2 18.4h-20.4zM400.8 486.1l10.2 18.4h-20.4zM401.5 486.5l10.2 18.4h-20.4zM402.3 486.9l10.2 18.4h-20.4zM403 487.4l10.2 18.4h-20.4zM403.8 487.8l10.2 18.4h-20.4zM404.6 488.2l10.2 18.4h-20.4zM405.3 488.6l10.2 18.4h-20.4zM406.1 489l10.2 18.4h-20.4zM407 489.5l10.2 18.4h-20.4zM407.8 489.9l10.2 18.4h-20.4zM408.6 490.4l10.2 18.4h-20.4zM409.5 490.8l10.2 18.4h-20.4zM410.3 491.3l10.2 18.4h-20.4zM411.2 491.8l10.2 18.4h-20.4zM412.1 492.3l10.2 18.4h-20.4zM413 492.8l10.2 18.4h-20.4zM413.9 493.3l10.2 18.4h-20.4zM414.9 493.8l10.2 18.4h-20.4zM415.8 494.3l10.2 18.4h-20.4zM416.8 494.8l10.2 18.4h-20.4zM417.8 495.3l10.2 18.4h-20.4zM418.8 495.9l10.2 18.4h-20.4zM419.8 496.4l10.2 18.4h-20.4zM420.9 497l10.2 18.4h-20.4zM422 497.6l10.2 18.4h-20.4zM423.1 498.2l10.2 18.4h-20.4zM424.2 498.8l10.2 18.4h-20.4zM425.3 499.4l10.2 18.4h-20.4zM426.5 500l10.2 18.4h-20.4zM427.6 500.6l10.2 18.4h-20.4zM428.8 501.3l10.2 18.4h-20.4zM430.1 501.9l10.2 18.4h-20.4zM431.3 502.6l10.2 18.4h-20.4zM432.6 503.3l10.2 18.4h-20.4zM433.9 504l10.2 18.4h-20.4zM435.2 504.7l10.2 18.4h-20.4zM436.6 505.4l10.2 18.4h-20.4zM438 506.2l10.2 18.4h-20.4zM439.4 506.9l10.2 18.4h-20.4zM440.9 507.7l10.2 18.4h-20.4zM442.4 508.5l10.2 18.4h-20.4zM443.9 509.3l10.2 18.4h-20.4zM445.5 510.2l10.2 18.4h-20.4zM447.1 511l10.2 18.4h-20.4zM448.8 511.9l10.2 18.4h-20.4zM450.4 512.8l10.2 18.4h-20.4zM452.2 513.7l10.2 18.4h-20.4zM454 514.7l10.2 18.4h-20.4zM455.8 515.6l10.2 18.4h-20.4zM457.7 516.6l10.2 18.4h-20.4zM459.6 517.6l10.2 18.4h-20.4zM461.6 518.7l10.2 18.4h-20.4zM463.7 519.8l10.2 18.4h-20.4zM465.8 520.9l10.2 18.4h-20.4zM467.9 522l10.2 18.4h-20.4zM470.2 523.2l10.2 18.4h-20.4zM472.5 524.4l10.2 18.4h-20.4zM474.9 525.7l10.2 18.4h-20.4zM477.4 527l10.2 18.4h-20.4zM479.9 528.3l10.2 18.4h-20.4zM482.6 529.7l10.2 18.4h-20.4zM485.3 531.1l10.2 18.4h-20.4zM488.1 532.6l10.2 18.4h-20.4zM491.1 534.1l10.2 18.4h-20.4zM494.1 535.7l10.2 18.4h-20.4zM497.3 537.4l10.2 18.4h-20.4zM500.6 539.1l10.2 18.4h-20.4zM504 541l10.2 18.4h-20.4zM507.6 542.8l10.2 18.4h-20.4zM511.3 544.8l10.2 18.4h-20.4zM515.3 546.9l10.2 18.4h-20.4zM519.3 549l10.2 18.4h-20.4zM523.6 551.3l10.2 18.4h-20.4zM528.1 553.6l10.2 18.4h-20.4zM532.9 556.1l10.2 18.4h-20.4zM537.8 558.7l10.2 18.4h-20.4zM543.1 561.4l10.2 18.4h-20.4zM548.6 564.3l10.2 18.4h-20.4zM554.5 567.3l10.2 18.4h-20.4zM560.8 570.4l10.2 18.4h-20.4zM567.4 573.7l10.2 18.4h-20.4zM574.5 577.2l10.2 18.4h-20.4zM582.1 580.9l10.2 18.4h-20.4zM590.3 584.8l10.2 18.4h-20.4zM599.1 588.8l10.2 18.4h-20.4zM608.6 593.1l10.2 18.4h-20.4zM619 597.7l10.2 18.4h-20.4zM630.3 602.6l10.2 18.4h-20.4zM642.7 607.8l10.2 18.4h-20.4zM656.4 613.5l10.2 18.4h-20.4zM671.7 619.7l10.2 18.4h-20.4zM688.9 626.5l10.2 18.4h-20.4zM708.3 633.9l10.2 18.4h-20.4zM730.6 642.1l10.2 18.4h-20.4zM756.5 651.1l10.2 18.4h-20.4zM787.2 660.9l10.2 18.4h-20.4zM824.2 670.7l10.2 18.4h-20.4zM870.1 681.6l10.2 18.4h-20.4zM929.1 695.1l10.2 18.4h-20.4zM1009.1 709.6l10.2 18.4h-20.4zM1126.3 727.1l10.2 18.4h-20.4zM1322.9 747.6l10.2 18.4h-20.4zM1766.6 777.1l10.2 18.4h-20.4z"/>
<path fill="#ff0000" d="M376.4 318.4a8 7.7 0 1 0 16 0a8 7.7 0 1 0 -16 0zM376.9 318.1a8 7.7 0 1 0 16 0a8 7.7 0 1 0 -16 0zM377.4 317.9a8 7.7 0 1 0 16 0a8 7.7 0 1 0 -16 0zM377.9 317.6a8 7.7 0 1 0 16 0a8 7.7 0 1 0 -16 0zM378.5 317.4a8 7.7 0 1 0 16 0a8 7.7 0 1 0 -16 0zM379 317.1a8 7.7 0 1 0 16 0a8 7.7 0 1 0 -16 0zM379.6 316.8a8 7.7 0 1 0 16 0a8 7.7 0 1 0 -16 0zM380.1 316.6a8 7.7 0 1 0 16 0a8 7.7 0 1 0 -16 0zM380.7 316.3a8 7.7 0 1 0 16 0a8 7.7 0 1 0 -16 0zM381.2 316a8 7.7 0 1 0 16 0a8 7.7 0 1 0 -16 0zM381.8 315.7a8 7.7 0 1 0 16 0a8 7.7 0 1 0 -16 0zM382.4 315.4a8 7.7 0 1 0 16 0a8 7.7 0 1 0 -16 0zM383 315.2a8 7.7 0 1 0 16 0a8 7.7 0 1 0 -16 0zM383.6 314.9a8 7.7 0 1 0 16 0a8 7.7 0 1 0 -16 0zM384.2 314.6a8 7.7 0 1 0 16 0a8 7.7 0 1 0 -16 0zM384.8 314.3a8 7.7 0 1 0 16 0a8 7.7 0 1 0 -16 0zM385.4 314a8 7.7 0 1 0 16 0a8 7.7 0 1 0 -16 0zM386 313.7a8 7.7 0 1 0 16 0a8 7.7 0 1 0 -16 0zM386.7 313.4a8 7.7 0 1 0 16 0a8 7.7 0 1 0 -16 0zM387.3 313a8 7.7 0 1 0 16 0a8 7.7 0 1 0 -16 0zM388 312.7a8 7.7 0 1 0 16 0a8 7.7 0 1 0 -16 0zM388.6 312.4a8 7.7 0 1 0 16 0a8 7.7 0 1 0 -16 0zM389.3 312.1a8 7.7 0 1 0 16 0a8 7.7 0 1 0 -16 0zM390 311.8a8 7.7 0 1 0 16 0a8 7.7 0 1 0 -16 0zM390.7 311.4a8 7.7 0 1 0 16 0a8 7.7 0 1 0 -16 0zM391.4 311.1a8 7.7 0 1 0 16 0a8 7.7 0 1 0 -16 0zM392.1 310.7a8 7.7 0 1 0 16 0a8 7.7 0 1 0 -16 0zM392.8 310.4a8 7.7 0 1 0 16 0a8 7.7 0 1 0 -16 0zM393.5 310a8 7.7 0 1 0 16 0a8 7.7 0 1 0 -16 0zM394.3 309.7a8 7.7 0 1 0 16 0a8 7.7 0 1 0 -16 0zM395 309.3a8 7.7 0 1 0 16 0a8 7.7 0 1 0 -16 0zM395.8 309a8 7.7 0 1 0 16 0a8 7.7 0 1 0 -16 0zM396.6 308.6a8 7.7 0 1 0 16 0a8 7.7 0 1 0 -16 0zM397.3 308.2a8 7.7 0 1 0 16 0a8 7.7 0 1 0 -16 0zM398.1 307.8a8 7.7 0 1 0 16 0a8 7.7 0 1 0 -16 0zM399 307.5a8 7.7 0 1 0 16 0a8 7.7 0 1 0 -16 0zM399.8 307.1a8 7.7 0 1 0 16 0a8 7.7 0 1 0 -16 0zM400.6 306.7a8 7.7 0 1 0 16 0a8 7.7 0 1 0 -16 0zM401.5 306.3a8 7.7 0 1 0 16 0a8 7.7 0 1 0 -16 0zM402.3 305.9a8 7.7 0 1 0 16 0a8 7.7 0 1 0 -16 0zM403.2 305.4a8 7.7 0 1 0 16 0a8 7.7 0 1 0 -16 0zM404.1 305a8 7.7 0 1 0 16 0a8 7.7 0 1 0 -16 0zM405 304.6a8 7.7 0 1 0 16 0a8 7.7 0 1 0 -16 0zM405.9 304.2a8 7.7 0 1 0 16 0a8 7.7 0 1 0 -16 0zM406.9 303.7a8 7.7 0 1 0 16 0a8 7.7 0 1 0 -16 0zM407.8 303.3a8 7.7 0 1 0 16 0a8 7.7 0 1 0 -16 0zM408.8 302.8a8 7.7 0 1 0 16 0a8 7.7 0 1 0 -16 0zM409.8 302.4a8 7.7 0 1 0 16 0a8 7.7 0 1 0 -16 0zM410.8 301.9a8 7.7 0 1 0 16 0a8 7.7 0 1 0 -16 0zM411.8 301.4a8 7.7 0 1 0 16 0a8 7.7 0 1 0 -16 0zM412.9 301a8 7.7 0 1 0 16 0a8 7.7 0 1 0 -16 0zM414 300.5a8 7.7 0 1 0 16 0a8 7.7 0 1 0 -16 0zM415.1 300a8 7.7 0 1 0 16 0a8 7.7 0 1 0 -16 0zM416.2 299.5a8 7.7 0 1 0 16 0a8 7.7 0 1 0 -16 0zM417.3 298.9a8 7.7 0 1 0 16 0a8 7.7 0 1 0 -16 0zM418.5 298.4a8 7.7 0 1 0 16 0a8 7.7 0 1 0 -16 0zM419.6 297.9a8 7.7 0 1 0 16 0a8 7.7 0 1 0 -16 0zM420.8 297.3a8 7.7 0 1 0 16 0a8 7.7 0 1 0 -16 0zM422.1 296.8a8 7.7 0 1 0 16 0a8 7.7 0 1 0 -16 0zM423.3 296.2a8 7.7 0 1 0 16 0a8 7.7 0 1 0 -16 0zM424.6 295.7a8 7.7 0 1 0 16 0a8 7.7 0 1 0 -16 0zM425.9 295.1a8 7.7 0 1 0 16 0a8 7.7 0 1 0 -16 0zM427.2 294.5a8 7.7 0 1 0 16 0a8 7.7 0 1 0 -16 0zM428.6 293.9a8 7.7 0 1 0 16 0a8 7.7 0 1 0 -16 0zM430 293.3a8 7.7 0 1 0 16 0a8 7.7 0 1 0 -16 0zM431.4 292.6a8 7.7 0 1 0 16 0a8 7.7 0 1 0 -16 0zM432.9 292a8 7.7 0 1 0 16 0a8 7.7 0 1 0 -16 0zM434.4 291.4a8 7.7 0 1 0 16 0a8 7.7 0 1 0 -16 0zM435.9 290.7a8 7.7 0 1 0 16 0a8 7.7 0 1 0 -16 0zM437.5 290a8 7.7 0 1 0 16 0a8 7.7 0 1 0 -16 0zM439.1 289.3a8 7.7 0 1 0 16 0a8 7.7 0 1 0 -16 0zM440.8 288.6a8 7.7 0 1 0 16 0a8 7.7 0 1 0 -16 0zM442.4 287.9a8 7.7 0 1 0 16 0a8 7.7 0 1 0 -16 0zM444.2 287.2a8 7.7 0 1 0 16 0a8 7.7 0 1 0 -16 0zM446 286.4a8 7.7 0 1 0 16 0a8 7.7 0 1 0 -16 0zM447.8 285.7a8 7.7 0 1 0 16 0a8 7.7 0 1 0 -16 0zM449.7 284.9a8 7.7 0 1 0 16 0a8 7.7 0 1 0 -16 0zM451.6 284.1a8 7.7 0 1 0 16 0a8 7.7 0 1 0 -16 0zM453.6 283.3a8 7.7 0 1 0 16 0a8 7.7 0 1 0 -16 0zM455.7 282.4a8 7.7 0 1 0 16 0a8 7.7 0 1 0 -16 0zM457.8 281.6a8 7.7 0 1 0 16 0a8 7.7 0 1 0 -16 0zM459.9 280.7a8 7.7 0 1 0 16 0a8 7.7 0 1 0 -16 0zM462.2 279.8a8 7.7 0 1 0 16 0a8 7.7 0 1 0 -16 0zM464.5 278.9a8 7.7 0 1 0 16 0a8 7.7 0 1 0 -16 0zM466.9 278a8 7.7 0 1 0 16 0a8 7.7 0 1 0 -16 0zM469.4 277.1a8 7.7 0 1 0 16 0a8 7.7 0 1 0 -16 0zM471.9 276.1a8 7.7 0 1 0 16 0a8 7.7 0 1 0 -16 0zM474.6 275.1a8 7.7 0 1 0 16 0a8 7.7 0 1 0 -16 0zM477.3 274.1a8 7.7 0 1 0 16 0a8 7.7 0 1 0 -16 0zM480.1 273a8 7.7 0 1 0 16 0a8 7.7 0 1 0 -16 0zM483.1 271.9a8 7.7 0 1 0 16 0a8 7.7 0 1 0 -16 0zM486.1 270.8a8 7.7 0 1 0 16 0a8 7.7 0 1 0 -16 0zM489.3 269.6a8 7.7 0 1 0 16 0a8 7.7 0 1 0 -16 0zM492.6 268.4a8 7.7 0 1 0 16 0a8 7.7 0 1 0 -16 0zM496 267.2a8 7.7 0 1 0 16 0a8 7.7 0 1 0 -16 0zM499.6 265.9a8 7.7 0 1 0 16 0a8 7.7 0 1 0 -16 0zM503.3 264.5a8 7.7 0 1 0 16 0a8 7.7 0 1 0 -16 0zM507.3 263.1a8 7.7 0 1 0 16 0a8 7.7 0 1 0 -16 0zM511.3 261.7a8 7.7 0 1 0 16 0a8 7.7 0 1 0 -16 0zM515.6 260.2a8 7.7 0 1 0 16 0a8 7.7 0 1 0 -16 0zM520.1 258.7a8 7.7 0 1 0 16 0a8 7.7 0 1 0 -16 0zM524.9 257.1a8 7.7 0 1 0 16 0a8 7.7 0 1 0 -16 0zM529.8 255.4a8 7.7 0 1 0 16 0a8 7.7 0 1 0 -16 0zM535.1 253.7a8 7.7 0 1 0 16 0a8 7.7 0 1 0 -16 0zM540.6 251.9a8 7.7 0 1 0 16 0a8 7.7 0 1 0 -16 0zM546.5 250a8 7.7 0 1 0 16 0a8 7.7 0 1 0 -16 0zM552.8 248.1a8 7.7 0 1 0 16 0a8 7.7 0 1 0 -16 0zM559.4 246.1a8 7.7 0 1 0 16 0a8 7.7 0 1 0 -16 0zM566.5 244a8 7.7 0 1 0 16 0a8 7.7 0 1 0 -16 0zM574.1 241.8a8 7.7 0 1 0 16 0a8 7.7 0 1 0 -16 0zM582.3 239.6a8 7.7 0 1 0 16 0a8 7.7 0 1 0 -16 0zM591.1 237.3a8 7.7 0 1 0 16 0a8 7.7 0 1 0 -16 0zM600.6 234.9a8 7.7 0 1 0 16 0a8 7.7 0 1 0 -16 0zM611 232.4a8 7.7 0 1 0 16 0a8 7.7 0 1 0 -16 0zM622.3 229.8a8 7.7 0 1 0 16 0a8 7.7 0 1 0 -16 0zM634.7 227.1a8 7.7 0 1 0 16 0a8 7.7 0 1 0 -16 0zM648.4 224.2a8 7.7 0 1 0 16 0a8 7.7 0 1 0 -16 0zM663.7 221.2a8 7.7 0 1 0 16 0a8 7.7 0 1 0 -16 0zM680.9 218a8 7.7 0 1 0 16 0a8 7.7 0 1 0 -16 0zM700.3 214.7a8 7.7 0 1 0 16 0a8 7.7 0 1 0 -16 0zM722.6 211.2a8 7.7 0 1 0 16 0a8 7.7 0 1 0 -16 0zM748.5 206.7a8 7.7 0 1 0 16 0a8 7.7 0 1 0 -16 0zM779.2 201.5a8 7.7 0 1 0 16 0a8 7.7 0 1 0 -16 0zM816.2 195a8 7.7 0 1 0 16 0a8 7.7 0 1 0 -16 0zM862.1 188.2a8 7.7 0 1 0 16 0a8 7.7 0 1 0 -16 0zM921.1 180a8 7.7 0 1 0 16 0a8 7.7 0 1 0 -16 0zM1001.1 171a8 7.7 0 1 0 16 0a8 7.7 0 1 0 -16 0zM1118.3 160a8 7.7 0 1 0 16 0a8 7.7 0 1 0 -16 0zM1314.9 146a8 7.7 0 1 0 16 0a8 7.7 0 1 0 -16 0zM1758.6 125a8 7.7 0 1 0 16 0a8 7.7 0 1 0 -16 0z"/>
<path fill="#0000ff" d="M376.4 489.1a8 7.7 0 1 0 16 0a8 7.7 0 1 0 -16 0zM376.9 489.5a8 7.7 0 1 0 16 0a8 7.7 0 1 0 -16 0zM377.4 489.8a8 7.7 0 1 0 16 0a8 7.7 0 1 0 -16 0zM377.9 490.1a8 7.7 0 1 0 16 0a8 7.7 0 1 0 -16 0zM378.5 490.5a8 7.7 0 1 0 16 0a8 7.7 0 1 0 -16 0zM379 490.8a8 7.7 0 1 0 16 0a8 7.7 0 1 0 -16 0zM379.6 491.2a8 7.7 0 1 0 16 0a8 7.7 0 1 0 -16 0zM380.1 491.5a8 7.7 0 1 0 16 0a8 7.7 0 1 0 -16 0zM380.7 491.9a8 7.7 0 1 0 16 0a8 7.7 0 1 0 -16 0zM381.2 492.3a8 7.7 0 1 0 16 0a8 7.7 0 1 0 -16 0zM381.8 492.6a8 7.7 0 1 0 16 0a8 7.7 0 1 0 -16 0zM382.4 493a8 7.7 0 1 0 16 0a8 7.7 0 1 0 -16 0zM383 493.4a8 7.7 0 1 0 16 0a8 7.7 0 1 0 -16 0zM383.6 493.7a8 7.7 0 1 0 16 0a8 7.7 0 1 0 -16 0zM384.2 494.1a8 7.7 0 1 0 16 0a8 7.7 0 1 0 -16 0zM384.8 494.5a8 7.7 0 1 0 16 0a8 7.7 0 1 0 -16 0zM385.4 494.9a8 7.7 0 1 0 16 0a8 7.7 0 1 0 -16 0zM386 495.3a8 7.7 0 1 0 16 0a8 7.7 0 1 0 -16 0zM386.7 495.7a8 7.7 0 1 0 16 0a8 7.7 0 1 0 -16 0zM387.3 496.1a8 7.7 0 1 0 16 0a8 7.7 0 1 0 -16 0zM388 496.6a8 7.7 0 1 0 16 0a8 7.7 0 1 0 -16 0zM388.6 497a8 7.7 0 1 0 16 0a8 7.7 0 1 0 -16 0zM389.3 497.4a8 7.7 0 1 0 16 0a8 7.7 0 1 0 -16 0zM390 497.8a8 7.7 0 1 0 16 0a8 7.7 0 1 0 -16 0zM390.7 498.3a8 7.7 0 1 0 16 0a8 7.7 0 1 0 -16 0zM391.4 498.7a8 7.7 0 1 0 16 0a8 7.7 0 1 0 -16 0zM392.1 499.2a8 7.7 0 1 0 16 0a8 7.7 0 1 0 -16 0zM392.8 499.6a8 7.7 0 1 0 16 0a8 7.7 0 1 0 -16 0zM393.5 500.1a8 7.7 0 1 0 16 0a8 7.7 0 1 0 -16 0zM394.3 500.6a8 7.7 0 1 0 16 0a8 7.7 0 1 0 -16 0zM395 501.1a8 7.7 0 1 0 16 0a8 7.7 0 1 0 -16 0zM395.8 501.6a8 7.7 0 1 0 16 0a8 7.7 0 1 0 -16 0zM396.6 502a8 7.7 0 1 0 16 0a8 7.7 0 1 0 -16 0zM397.3 502.5a8 7.7 0 1 0 16 0a8 7.7 0 1 0 -16 0zM398.1 503.1a8 7.7 0 1 0 16 0a8 7.7 0 1 0 -16 0zM399 503.6a8 7.7 0 1 0 16 0a8 7.7 0 1 0 -16 0zM399.8 504.1a8 7.7 0 1 0 16 0a8 7.7 0 1 0 -16 0zM400.6 504.6a8 7.7 0 1 0 16 0a8 7.7 0 1 0 -16 0zM401.5 505.2a8 7.7 0 1 0 16 0a8 7.7 0 1 0 -16 0zM402.3 505.7a8 7.7 0 1 0 16 0a8 7.7 0 1 0 -16 0zM403.2 506.3a8 7.7 0 1 0 16 0a8 7.7 0 1 0 -16 0zM404.1 506.8a8 7.7 0 1 0 16 0a8 7.7 0 1 0 -16 0zM405 507.4a8 7.7 0 1 0 16 0a8 7.7 0 1 0 -16 0zM405.9 508a8 7.7 0 1 0 16 0a8 7.7 0 1 0 -16 0zM406.9 508.6a8 7.7 0 1 0 16 0a8 7.7 0 1 0 -16 0zM407.8 509.2a8 7.7 0 1 0 16 0a8 7.7 0 1 0 -16 0zM408.8 509.8a8 7.7 0 1 0 16 0a8 7.7 0 1 0 -16 0zM409.8 510.5a8 7.7 0 1 0 16 0a8 7.7 0 1 0 -16 0zM410.8 511.1a8 7.7 0 1 0 16 0a8 7.7 0 1 0 -16 0zM411.8 511.8a8 7.7 0 1 0 16 0a8 7.7 0 1 0 -16 0zM412.9 512.4a8 7.7 0 1 0 16 0a8 7.7 0 1 0 -16 0zM414 513.1a8 7.7 0 1 0 16 0a8 7.7 0 1 0 -16 0zM415.1 513.8a8 7.7 0 1 0 16 0a8 7.7 0 1 0 -16 0zM416.2 514.5a8 7.7 0 1 0 16 0a8 7.7 0 1 0 -16 0zM417.3 515.2a8 7.7 0 1 0 16 0a8 7.7 0 1 0 -16 0zM418.5 515.9a8 7.7 0 1 0 16 0a8 7.7 0 1 0 -16 0zM419.6 516.7a8 7.7 0 1 0 16 0a8 7.7 0 1 0 -16 0zM420.8 517.4a8 7.7 0 1 0 16 0a8 7.7 0 1 0 -16 0zM422.1 518.2a8 7.7 0 1 0 16 0a8 7.7 0 1 0 -16 0zM423.3 519a8 7.7 0 1 0 16 0a8 7.7 0 1 0 -16 0zM424.6 519.8a8 7.7 0 1 0 16 0a8 7.7 0 1 0 -16 0zM425.9 520.6a8 7.7 0 1 0 16 0a8 7.7 0 1 0 -16 0zM427.2 521.4a8 7.7 0 1 0 16 0a8 7.7 0 1 0 -16 0zM428.6 522.3a8 7.7 0 1 0 16 0a8 7.7 0 1 0 -16 0zM430 523.2a8 7.7 0 1 0 16 0a8 7.7 0 1 0 -16 0zM431.4 524.1a8 7.7 0 1 0 16 0a8 7.7 0 1 0 -16 0zM432.9 525a8 7.7 0 1 0 16 0a8 7.7 0 1 0 -16 0zM434.4 525.9a8 7.7 0 1 0 16 0a8 7.7 0 1 0 -16 0zM435.9 526.9a8 7.7 0 1 0 16 0a8 7.7 0 1 0 -16 0zM437.5 527.8a8 7.7 0 1 0 16 0a8 7.7 0 1 0 -16 0zM439.1 528.8a8 7.7 0 1 0 16 0a8 7.7 0 1 0 -16 0zM440.8 529.9a8 7.7 0 1 0 16 0a8 7.7 0 1 0 -16 0zM442.4 530.9a8 7.7 0 1 0 16 0a8 7.7 0 1 0 -16 0zM444.2 532a8 7.7 0 1 0 16 0a8 7.7 0 1 0 -16 0zM446 533.1a8 7.7 0 1 0 16 0a8 7.7 0 1 0 -16 0zM447.8 534.2a8 7.7 0 1 0 16 0a8 7.7 0 1 0 -16 0zM449.7 535.4a8 7.7 0 1 0 16 0a8 7.7 0 1 0 -16 0zM451.6 536.6a8 7.7 0 1 0 16 0a8 7.7 0 1 0 -16 0zM453.6 537.8a8 7.7 0 1 0 16 0a8 7.7 0 1 0 -16 0zM455.7 539.1a8 7.7 0 1 0 16 0a8 7.7 0 1 0 -16 0zM457.8 540.4a8 7.7 0 1 0 16 0a8 7.7 0 1 0 -16 0zM459.9 541.7a8 7.7 0 1 0 16 0a8 7.7 0 1 0 -16 0zM462.2 543.1a8 7.7 0 1 0 16 0a8 7.7 0 1 0 -16 0zM464.5 544.5a8 7.7 0 1 0 16 0a8 7.7 0 1 0 -16 0zM466.9 546a8 7.7 0 1 0 16 0a8 7.7 0 1 0 -16 0zM469.4 547.5a8 7.7 0 1 0 16 0a8 7.7 0 1 0 -16 0zM471.9 549.1a8 7.7 0 1 0 16 0a8 7.7 0 1 0 -16 0zM474.6 550.7a8 7.7 0 1 0 16 0a8 7.7 0 1 0 -16 0zM477.3 552.3a8 7.7 0 1 0 16 0a8 7.7 0 1 0 -16 0zM480.1 554a8 7.7 0 1 0 16 0a8 7.7 0 1 0 -16 0zM483.1 555.8a8 7.7 0 1 0 16 0a8 7.7 0 1 0 -16 0zM486.1 557.6a8 7.7 0 1 0 16 0a8 7.7 0 1 0 -16 0zM489.3 559.5a8 7.7 0 1 0 16 0a8 7.7 0 1 0 -16 0zM492.6 561.4a8 7.7 0 1 0 16 0a8 7.7 0 1 0 -16 0zM496 563.4a8 7.7 0 1 0 16 0a8 7.7 0 1 0 -16 0zM499.6 565.5a8 7.7 0 1 0 16 0a8 7.7 0 1 0 -16 0zM503.3 567.7a8 7.7 0 1 0 16 0a8 7.7 0 1 0 -16 0zM507.3 569.9a8 7.7 0 1 0 16 0a8 7.7 0 1 0 -16 0zM511.3 572.3a8 7.7 0 1 0 16 0a8 7.7 0 1 0 -16 0zM515.6 574.8a8 7.7 0 1 0 16 0a8 7.7 0 1 0 -16 0zM520.1 577.3a8 7.7 0 1 0 16 0a8 7.7 0 1 0 -16 0zM524.9 580a8 7.7 0 1 0 16 0a8 7.7 0 1 0 -16 0zM529.8 582.9a8 7.7 0 1 0 16 0a8 7.7 0 1 0 -16 0zM535.1 585.9a8 7.7 0 1 0 16 0a8 7.7 0 1 0 -16 0zM540.6 589.1a8 7.7 0 1 0 16 0a8 7.7 0 1 0 -16 0zM546.5 592.5a8 7.7 0 1 0 16 0a8 7.7 0 1 0 -16 0zM552.8 596.2a8 7.7 0 1 0 16 0a8 7.7 0 1 0 -16 0zM559.4 600.1a8 7.7 0 1 0 16 0a8 7.7 0 1 0 -16 0zM566.5 604.4a8 7.7 0 1 0 16 0a8 7.7 0 1 0 -16 0zM574.1 609a8 7.7 0 1 0 16 0a8 7.7 0 1 0 -16 0zM582.3 614.1a8 7.7 0 1 0 16 0a8 7.7 0 1 0 -16 0zM591.1 619.7a8 7.7 0 1 0 16 0a8 7.7 0 1 0 -16 0zM600.6 626.1a8 7.7 0 1 0 16 0a8 7.7 0 1 0 -16 0zM611 633.2a8 7.7 0 1 0 16 0a8 7.7 0 1 0 -16 0zM622.3 641.3a8 7.7 0 1 0 16 0a8 7.7 0 1 0 -16 0zM634.7 650.2a8 7.7 0 1 0 16 0a8 7.7 0 1 0 -16 0zM648.4 660.2a8 7.7 0 1 0 16 0a8 7.7 0 1 0 -16 0zM663.7 671a8 7.7 0 1 0 16 0a8 7.7 0 1 0 -16 0zM680.9 682.5a8 7.7 0 1 0 16 0a8 7.7 0 1 0 -16 0zM700.3 694.6a8 7.7 0 1 0 16 0a8 7.7 0 1 0 -16 0zM722.6 708a8 7.7 0 1 0 16 0a8 7.7 0 1 0 -16 0zM748.5 724a8 7.7 0 1 0 16 0a8 7.7 0 1 0 -16 0zM779.2 741.5a8 7.7 0 1 0 16 0a8 7.7 0 1 0 -16 0zM816.2 762.5a8 7.7 0 1 0 16 0a8 7.7 0 1 0 -16 0zM862.1 785.6a8 7.7 0 1 0 16 0a8 7.7 0 1 0 -16 0zM921.1 814.8a8 7.7 0 1 0 16 0a8 7.7 0 1 0 -16 0zM1001.1 848.6a8 7.7 0 1 0 16 0a8 7.7 0 1 0 -16 0zM1118.3 889a8 7.7 0 1 0 16 0a8 7.7 0 1 0 -16 0zM1314.9 941.5a8 7.7 0 1 0 16 0a8 7.7 0 1 0 -16 0zM1758.6 1013a8 7.7 0 1 0 16 0a8 7.7 0 1 0 -16 0z"/>
<path fill="#ff0000" d="M376.6 308.1h15.6v15.6h-15.6zM377.1 307.8h15.6v15.6h-15.6zM377.6 307.6h15.6v15.6h-15.6zM378.1 307.3h15.6v15.6h-15.6zM378.7 307h15.6v15.6h-15.6zM379.2 306.7h15.6v15.6h-15.6zM379.8 306.4h15.6v15.6h-15.6zM380.3 306.2h15.6v15.6h-15.6zM380.9 305.9h15.6v15.6h-15.6zM381.4 305.6h15.6v15.6h-15.6zM382 305.3h15.6v15.6h-15.6zM382.6 305h15.6v15.6h-15.6zM383.2 304.7h15.6v15.6h-15.6zM383.8 304.4h15.6v15.6h-15.6zM384.4 304.1h15.6v15.6h-15.6zM385 303.7h15.6v15.6h-15.6zM385.6 303.4h15.6v15.6h-15.6zM386.2 303.1h15.6v15.6h-15.6zM386.9 302.8h15.6v15.6h-15.6zM387.5 302.4h15.6v15.6h-15.6zM388.2 302.1h15.6v15.6h-15.6zM388.8 301.8h15.6v15.6h-15.6zM389.5 301.4h15.6v15.6h-15.6zM390.2 301.1h15.6v15.6h-15.6zM390.9 300.7h15.6v15.6h-15.6zM391.6 300.4h15.6v15.6h-15.6zM392.3 300h15.6v15.6h-15.6zM393 299.6h15.6v15.6h-15.6zM393.7 299.3h15.6v15.6h-15.6zM394.5 298.9h15.6v15.6h-15.6zM395.2 298.5h15.6v15.6h-15.6zM396 298.1h15.6v15.6h-15.6zM396.8 297.7h15.6v15.6h-15.6zM397.5 297.3h15.6v15.6h-15.6zM398.3 296.9h15.6v15.6h-15.6zM399.2 296.5h15.6v15.6h-15.6zM400 296.1h15.6v15.6h-15.6zM400.8 295.7h15.6v15.6h-15.6zM401.7 295.3h15.6v15.6h-15.6zM402.5 294.8h15.6v15.6h-15.6zM403.4 294.4h15.6v15.6h-15.6zM404.3 294h15.6v15.6h-15.6zM405.2 293.5h15.6v15.6h-15.6zM406.1 293h15.6v15.6h-15.6zM407.1 292.6h15.6v15.6h-15.6zM408 292.1h15.6v15.6h-15.6zM409 291.6h15.6v15.6h-15.6zM410 291.1h15.6v15.6h-15.6zM411 290.6h15.6v15.6h-15.6zM412 290.1h15.6v15.6h-15.6zM413.1 289.6h15.6v15.6h-15.6zM414.2 289.1h15.6v15.6h-15.6zM415.3 288.6h15.6v15.6h-15.6zM416.4 288h15.6v15.6h-15.6zM417.5 287.5h15.6v15.6h-15.6zM418.7 286.9h15.6v15.6h-15.6zM419.8 286.4h15.6v15.6h-15.6zM421 285.8h15.6v15.6h-15.6zM422.3 285.2h15.6v15.6h-15.6zM423.5 284.6h15.6v15.6h-15.6zM424.8 284h15.6v15.6h-15.6zM426.1 283.4h15.6v15.6h-15.6zM427.4 282.7h15.6v15.6h-15.6zM428.8 282.1h15.6v15.6h-15.6zM430.2 281.4h15.6v15.6h-15.6zM431.6 280.8h15.6v15.6h-15.6zM433.1 280.1h15.6v15.6h-15.6zM434.6 279.4h15.6v15.6h-15.6zM436.1 278.7h15.6v15.6h-15.6zM437.7 277.9h15.6v15.6h-15.6zM439.3 277.2h15.6v15.6h-15.6zM441 276.4h15.6v15.6h-15.6zM442.6 275.7h15.6v15.6h-15.6zM444.4 274.9h15.6v15.6h-15.6zM446.2 274.1h15.6v15.6h-15.6zM448 273.3h15.6v15.6h-15.6zM449.9 272.4h15.6v15.6h-15.6zM451.8 271.6h15.6v15.6h-15.6zM453.8 270.7h15.6v15.6h-15.6zM455.9 269.8h15.6v15.6h-15.6zM458 268.9h15.6v15.6h-15.6zM460.1 267.9h15.6v15.6h-15.6zM462.4 266.9h15.6v15.6h-15.6zM464.7 266h15.6v15.6h-15.6zM467.1 264.9h15.6v15.6h-15.6zM469.6 263.9h15.6v15.6h-15.6zM472.1 262.8h15.6v15.6h-15.6zM474.8 261.7h15.6v15.6h-15.6zM477.5 260.6h15.6v15.6h-15.6zM480.3 259.5h15.6v15.6h-15.6zM483.3 258.3h15.6v15.6h-15.6zM486.3 257h15.6v15.6h-15.6zM489.5 255.7h15.6v15.6h-15.6zM492.8 254.4h15.6v15.6h-15.6zM496.2 253.1h15.6v15.6h-15.6zM499.8 251.6h15.6v15.6h-15.6zM503.5 250.2h15.6v15.6h-15.6zM507.5 248.7h15.6v15.6h-15.6zM511.5 247.1h15.6v15.6h-15.6zM515.8 245.5h15.6v15.6h-15.6zM520.3 243.8h15.6v15.6h-15.6zM525.1 242h15.6v15.6h-15.6zM530 240.2h15.6v15.6h-15.6zM535.3 238.2h15.6v15.6h-15.6zM540.8 236.2h15.6v15.6h-15.6zM546.7 234.1h15.6v15.6h-15.6zM553 232h15.6v15.6h-15.6zM559.6 229.7h15.6v15.6h-15.6zM566.7 227.3h15.6v15.6h-15.6zM574.3 224.8h15.6v15.6h-15.6zM582.5 222.1h15.6v15.6h-15.6zM591.3 219.4h15.6v15.6h-15.6zM600.8 216.5h15.6v15.6h-15.6zM611.2 213.4h15.6v15.6h-15.6zM622.5 210.2h15.6v15.6h-15.6zM634.9 206.8h15.6v15.6h-15.6zM648.6 203.2h15.6v15.6h-15.6zM663.9 199.2h15.6v15.6h-15.6zM681.1 194.7h15.6v15.6h-15.6zM700.5 189.7h15.6v15.6h-15.6zM722.8 184.2h15.6v15.6h-15.6zM748.7 177.9h15.6v15.6h-15.6zM779.4 171.6h15.6v15.6h-15.6zM816.4 164.6h15.6v15.6h-15.6zM862.3 156.2h15.6v15.6h-15.6zM921.3 147.2h15.6v15.6h-15.6zM1001.3 134.2h15.6v15.6h-15.6zM1118.5 120.2h15.6v15.6h-15.6zM1315.1 100.7h15.6v15.6h-15.6zM1758.8 72.2h15.6v15.6h-15.6z"/>
<path fill="#0000ff" d="M376.6 482.3h15.6v15.6h-15.6zM377.1 482.7h15.6v15.6h-15.6zM377.6 483.1h15.6v15.6h-15.6zM378.1 483.4h15.6v15.6h-15.6zM378.7 483.8h15.6v15.6h-15.6zM379.2 484.2h15.6v15.6h-15.6zM379.8 484.5h15.6v15.6h-15.6zM380.3 484.9h15.6v15.6h-15.6zM380.9 485.3h15.6v15.6h-15.6zM381.4 485.7h15.6v15.6h-15.6zM382 486.1h15.6v15.6h-15.6zM382.6 486.5h15.6v15.6h-15.6zM383.2 486.9h15.6v15.6h-15.6zM383.8 487.3h15.6v15.6h-15.6zM384.4 487.7h15.6v15.6h-15.6zM385 488.2h15.6v15.6h-15.6zM385.6 488.6h15.6v15.6h-15.6zM386.2 489h15.6v15.6h-15.6zM386.9 489.5h15.6v15.6h-15.6zM387.5 489.9h15.6v15.6h-15.6zM388.2 490.4h15.6v15.6h-15.6zM388.8 490.8h15.6v15.6h-15.6zM389.5 491.3h15.6v15.6h-15.6zM390.2 491.8h15.6v15.6h-15.6zM390.9 492.2h15.6v15.6h-15.6zM391.6 492.7h15.6v15.6h-15.6zM392.3 493.2h15.6v15.6h-15.6zM393 493.7h15.6v15.6h-15.6zM393.7 494.2h15.6v15.6h-15.6zM394.5 494.7h15.6v15.6h-15.6zM395.2 495.2h15.6v15.6h-15.6zM396 495.8h15.6v15.6h-15.6zM396.8 496.3h15.6v15.6h-15.6zM397.5 496.8h15.6v15.6h-15.6zM398.3 497.4h15.6v15.6h-15.6zM399.2 497.9h15.6v15.6h-15.6zM400 498.5h15.6v15.6h-15.6zM400.8 499.1h15.6v15.6h-15.6zM401.7 499.7h15.6v15.6h-15.6zM402.5 500.3h15.6v15.6h-15.6zM403.4 500.9h15.6v15.6h-15.6zM404.3 501.5h15.6v15.6h-15.6zM405.2 502.1h15.6v15.6h-15.6zM406.1 502.7h15.6v15.6h-15.6zM407.1 503.4h15.6v15.6h-15.6zM408 504h15.6v15.6h-15.6zM409 504.7h15.6v15.6h-15.6zM410 505.4h15.6v15.6h-15.6zM411 506.1h15.6v15.6h-15.6zM412 506.8h15.6v15.6h-15.6zM413.1 507.5h15.6v15.6h-15.6zM414.2 508.2h15.6v15.6h-15.6zM415.3 509h15.6v15.6h-15.6zM416.4 509.7h15.6v15.6h-15.6zM417.5 510.5h15.6v15.6h-15.6zM418.7 511.3h15.6v15.6h-15.6zM419.8 512.1h15.6v15.6h-15.6zM421 512.9h15.6v15.6h-15.6zM422.3 513.7h15.6v15.6h-15.6zM423.5 514.6h15.6v15.6h-15.6zM424.8 515.5h15.6v15.6h-15.6zM426.1 516.3h15.6v15.6h-15.6zM427.4 517.2h15.6v15.6h-15.6zM428.8 518.2h15.6v15.6h-15.6zM430.2 519.1h15.6v15.6h-15.6zM431.6 520.1h15.6v15.6h-15.6zM433.1 521.1h15.6v15.6h-15.6zM434.6 522.1h15.6v15.6h-15.6zM436.1 523.1h15.6v15.6h-15.6zM437.7 524.2h15.6v15.6h-15.6zM439.3 525.3h15.6v15.6h-15.6zM441 526.4h15.6v15.6h-15.6zM442.6 527.5h15.6v15.6h-15.6zM444.4 528.7h15.6v15.6h-15.6zM446.2 529.9h15.6v15.6h-15.6zM448 531.1h15.6v15.6h-15.6zM449.9 532.4h15.6v15.6h-15.6zM451.8 533.7h15.6v15.6h-15.6zM453.8 535h15.6v15.6h-15.6zM455.9 536.4h15.6v15.6h-15.6zM458 537.8h15.6v15.6h-15.6zM460.1 539.2h15.6v15.6h-15.6zM462.4 540.7h15.6v15.6h-15.6zM464.7 542.3h15.6v15.6h-15.6zM467.1 543.9h15.6v15.6h-15.6zM469.6 545.5h15.6v15.6h-15.6zM472.1 547.2h15.6v15.6h-15.6zM474.8 548.9h15.6v15.6h-15.6zM477.5 550.7h15.6v15.6h-15.6zM480.3 552.6h15.6v15.6h-15.6zM483.3 554.5h15.6v15.6h-15.6zM486.3 556.5h15.6v15.6h-15.6zM489.5 558.5h15.6v15.6h-15.6zM492.8 560.6h15.6v15.6h-15.6zM496.2 562.8h15.6v15.6h-15.6zM499.8 565.1h15.6v15.6h-15.6zM503.5 567.5h15.6v15.6h-15.6zM507.5 570h15.6v15.6h-15.6zM511.5 572.6h15.6v15.6h-15.6zM515.8 575.3h15.6v15.6h-15.6zM520.3 578.1h15.6v15.6h-15.6zM525.1 581.1h15.6v15.6h-15.6zM530 584.2h15.6v15.6h-15.6zM535.3 587.5h15.6v15.6h-15.6zM540.8 591h15.6v15.6h-15.6zM546.7 594.7h15.6v15.6h-15.6zM553 598.7h15.6v15.6h-15.6zM559.6 603h15.6v15.6h-15.6zM566.7 607.6h15.6v15.6h-15.6zM574.3 612.6h15.6v15.6h-15.6zM582.5 618h15.6v15.6h-15.6zM591.3 624h15.6v15.6h-15.6zM600.8 630.8h15.6v15.6h-15.6zM611.2 638.4h15.6v15.6h-15.6zM622.5 646.9h15.6v15.6h-15.6zM634.9 656.3h15.6v15.6h-15.6zM648.6 666.6h15.6v15.6h-15.6zM663.9 677.7h15.6v15.6h-15.6zM681.1 689.2h15.6v15.6h-15.6zM700.5 700.5h15.6v15.6h-15.6zM722.8 713.2h15.6v15.6h-15.6zM748.7 730.7h15.6v15.6h-15.6zM779.4 753.2h15.6v15.6h-15.6zM816.4 778.9h15.6v15.6h-15.6zM862.3 809.6h15.6v15.6h-15.6zM921.3 849.2h15.6v15.6h-15.6zM1001.3 899.2h15.6v15.6h-15.6zM1118.5 966.2h15.6v15.6h-15.6zM1315.1 1062.2h15.6v15.6h-15.6zM1758.8 1202.2h15.6v15.6h-15.6z"/>
<path fill="none" stroke="#000" stroke-width="4.6" d="M248.5 367.9L270.3 358.5M292.3 349.1L314.1 339.8M336.1 330.4L357.9 321.1M379.9 311.7L401.7 302.4M423.7 293L445.5 283.6M467.5 274.2L489.3 264.9M511.3 255.5L533.1 246.2M555.1 236.8L576.9 227.4M598.9 218L620.7 208.7M642.7 199.3L664.5 190M686.5 180.6L708.3 171.3M730.3 161.9L752.1 152.5M774.1 143.1L795.9 133.8M817.9 124.4L839.7 115.1"/>
<path fill="none" stroke="#000" stroke-width="4.6" d="M253.2 398L274.8 412.8M297 428.2L318.5 443M340.8 458.3L362.2 473.2M384.5 488.5L406 503.4M428.2 518.7L449.8 533.5M472 548.9L493.5 563.7M515.8 579.1L537.2 593.9M559.5 609.3L581 624.1M603.2 639.5L624.8 654.3M647 669.7L668.5 684.5M690.8 699.8L712.2 714.7M734.5 730L756 744.9M778.2 760.2L799.8 775M822 790.4L843.5 805.2M865.8 820.6L887.2 835.4M909.5 850.8L931 865.6M953.2 881L974.8 895.8M997 911.2L1018.5 926M1040.8 941.3L1062.2 956.2M1084.5 971.5L1106 986.4M1128.2 1001.7L1149.8 1016.5M1172 1031.9L1193.5 1046.7M1215.8 1062.1L1237.2 1076.9M1259.5 1092.3L1281 1107.1M1303.2 1122.5L1324.8 1137.3M1347 1152.7L1368.5 1167.5M1390.8 1182.8L1412.2 1197.7"/>
<g fill="#000">
<rect x="248.1" y="47.9" width="6.6" height="1273.4"/>
<rect x="248.1" y="1314.7" width="1662.3" height="6.6"/>
<rect x="251.4" y="1256.8" width="14.3" height="6.6"/>
<rect x="251.4" y="1199.2" width="14.3" height="6.6"/>
<rect x="251.4" y="1141.6" width="14.3" height="6.6"/>
<rect x="251.4" y="1084.1" width="27.5" height="6.6"/>
<rect x="251.4" y="1026.5" width="14.3" height="6.6"/>
<rect x="251.4" y="968.9" width="14.3" height="6.6"/>
<rect x="251.4" y="911.4" width="14.3" height="6.6"/>
<rect x="251.4" y="853.8" width="27.5" height="6.6"/>
<rect x="251.4" y="796.2" width="14.3" height="6.6"/>
<rect x="251.4" y="738.7" width="14.3" height="6.6"/>
<rect x="251.4" y="681.1" width="14.3" height="6.6"/>
<rect x="251.4" y="623.5" width="27.5" height="6.6"/>
<rect x="251.4" y="566" width="14.3" height="6.6"/>
<rect x="251.4" y="508.4" width="14.3" height="6.6"/>
<rect x="251.4" y="450.8" width="14.3" height="6.6"/>
<rect x="251.4" y="393.3" width="27.5" height="6.6"/>
<rect x="251.4" y="335.7" width="14.3" height="6.6"/>
<rect x="251.4" y="278.1" width="14.3" height="6.6"/>
<rect x="251.4" y="220.6" width="14.3" height="6.6"/>
<rect x="251.4" y="163" width="27.5" height="6.6"/>
<rect x="251.4" y="105.4" width="14.3" height="6.6"/>
<rect x="251.4" y="47.9" width="14.3" height="6.6"/>
<rect x="294.2" y="1303.7" width="6.6" height="14.3"/>
<rect x="340.2" y="1303.7" width="6.6" height="14.3"/>
<rect x="386.2" y="1303.7" width="6.6" height="14.3"/>
<rect x="432.2" y="1303.7" width="6.6" height="14.3"/>
<rect x="478.1" y="1291" width="6.6" height="27"/>
<rect x="524.1" y="1303.7" width="6.6" height="14.3"/>
<rect x="570.1" y="1303.7" width="6.6" height="14.3"/>
<rect x="616.1" y="1303.7" width="6.6" height="14.3"/>
<rect x="662.1" y="1303.7" width="6.6" height="14.3"/>
<rect x="708.1" y="1291" width="6.6" height="27"/>
<rect x="754.1" y="1303.7" width="6.6" height="14.3"/>
<rect x="800.1" y="1303.7" width="6.6" height="14.3"/>
<rect x="846.1" y="1303.7" width="6.6" height="14.3"/>
<rect x="892.1" y="1303.7" width="6.6" height="14.3"/>
<rect x="938" y="1291" width="6.6" height="27"/>
<rect x="984" y="1303.7" width="6.6" height="14.3"/>
<rect x="1030" y="1303.7" width="6.6" height="14.3"/>
<rect x="1076" y="1303.7" width="6.6" height="14.3"/>
<rect x="1122" y="1303.7" width="6.6" height="14.3"/>
<rect x="1168" y="1291" width="6.6" height="27"/>
<rect x="1214" y="1303.7" width="6.6" height="14.3"/>
<rect x="1260" y="1303.7" width="6.6" height="14.3"/>
<rect x="1306" y="1303.7" width="6.6" height="14.3"/>
<rect x="1352" y="1303.7" width="6.6" height="14.3"/>
<rect x="1398" y="1291" width="6.6" height="27"/>
<rect x="1443.9" y="1303.7" width="6.6" height="14.3"/>
<rect x="1489.9" y="1303.7" width="6.6" height="14.3"/>
<rect x="1535.9" y="1303.7" width="6.6" height="14.3"/>
<rect x="1581.9" y="1303.7" width="6.6" height="14.3"/>
<rect x="1627.9" y="1291" width="6.6" height="27"/>
<rect x="1673.9" y="1303.7" width="6.6" height="14.3"/>
<rect x="1719.9" y="1303.7" width="6.6" height="14.3"/>
<rect x="1765.9" y="1303.7" width="6.6" height="14.3"/>
<rect x="1811.9" y="1303.7" width="6.6" height="14.3"/>
<rect x="1857.8" y="1291" width="6.6" height="27"/>
<rect x="1903.8" y="1303.7" width="6.6" height="14.3"/>
</g>
<text class="t" x="224.5" y="1336.2" text-anchor="end">-80</text>
<text class="t" x="224.5" y="1105.9" text-anchor="end">-60</text>
<text class="t" x="224.5" y="875.6" text-anchor="end">-40</text>
<text class="t" x="224.5" y="645.3" text-anchor="end">-20</text>
<text class="t" x="224.5" y="415.1" text-anchor="end">0</text>
<text class="t" x="224.5" y="184.8" text-anchor="end">20</text>
<text class="t" x="252" y="1399" text-anchor="middle">0</text>
<text class="t" x="481.9" y="1399" text-anchor="middle">1</text><path fill="#fdfdfd" d="M466.9 1393.6h13.1v6.6h-13.1zM486.2 1393.6h12.5v6.6h-12.5z"/>
<text class="t" x="711.9" y="1399" text-anchor="middle">2</text>
<text class="t" x="941.8" y="1399" text-anchor="middle">3</text>
<text class="t" x="1171.8" y="1399" text-anchor="middle">4</text>
<text class="t" x="1401.8" y="1399" text-anchor="middle">5</text>
<text class="t" x="1631.7" y="1399" text-anchor="middle">6</text>
<text class="t" x="1861.6" y="1399" text-anchor="middle">7</text>
<text class="t" x="928" y="1507">τ</text>
<text class="s" x="959" y="1463">-0.5</text>
<text class="t" x="1068.5" y="1507">/ s</text>
<text class="s" x="1136" y="1463">-0.5</text>
<g transform="translate(108 904) rotate(-90)"><text class="t" x="0" y="0" textLength="284" lengthAdjust="spacing">i / mA cm</text><text class="s" x="286" y="-33">-2</text></g>
<path fill="#ff0000" d="M361 746.7l11.8 11.8l-11.8 11.8l-11.8 -11.8z"/><text class="l" x="442" y="778" textLength="209.8" lengthAdjust="spacingAndGlyphs">+20 mV</text>
<path fill="#0000ff" d="M361 826.2l11.8 11.8l-11.8 11.8l-11.8 -11.8z"/><text class="l" x="443.7" y="859" textLength="205.6" lengthAdjust="spacingAndGlyphs">-20 mV</text>
<path fill="#ff0000" d="M361 929.6l10.2 -18.4h-20.4z"/><text class="l" x="445.1" y="938.5" textLength="220.9" lengthAdjust="spacingAndGlyphs">+50 mV</text>
<path fill="#0000ff" d="M361 1010.9l10.2 -18.4h-20.4z"/><text class="l" x="443.7" y="1019" textLength="205.6" lengthAdjust="spacingAndGlyphs">-50 mV</text>
<path fill="#ff0000" d="M361 1067.1l10.2 18.4h-20.4z"/><text class="l" x="444.3" y="1099.3" textLength="257.9" lengthAdjust="spacingAndGlyphs">+100 mV</text><path fill="#fdfdfd" d="M484.8 1094h12.7v6.5h-12.7zM503.5 1094h12.2v6.5h-12.2z"/>
<path fill="#ff0000" d="M353 1159a8 7.7 0 1 0 16 0a8 7.7 0 1 0 -16 0z"/><text class="l" x="444.3" y="1178.5" textLength="257.9" lengthAdjust="spacingAndGlyphs">+150 mV</text><path fill="#fdfdfd" d="M484.8 1173.2h12.7v6.5h-12.7zM503.5 1173.2h12.2v6.5h-12.2z"/>
<path fill="#ff0000" d="M353.2 1230.2h15.6v15.6h-15.6z"/><text class="l" x="444.3" y="1260" textLength="257.9" lengthAdjust="spacingAndGlyphs">+200 mV</text>
<path fill="#0000ff" d="M787.3 1067.1l10.2 18.4h-20.4z"/><text class="l" x="869.5" y="1099.3" textLength="243.2" lengthAdjust="spacingAndGlyphs">-100 mV</text><path fill="#fdfdfd" d="M894.2 1094h12.8v6.5h-12.8zM913 1094h12.2v6.5h-12.2z"/>
<path fill="#0000ff" d="M779.3 1159a8 7.7 0 1 0 16 0a8 7.7 0 1 0 -16 0z"/><text class="l" x="869.5" y="1178.5" textLength="243.2" lengthAdjust="spacingAndGlyphs">-150 mV</text><path fill="#fdfdfd" d="M894.2 1173.2h12.8v6.5h-12.8zM913 1173.2h12.2v6.5h-12.2z"/>
<path fill="#0000ff" d="M779.5 1230.2h15.6v15.6h-15.6z"/><text class="l" x="869.5" y="1260" textLength="243.2" lengthAdjust="spacingAndGlyphs">-200 mV</text>
</g></g>
</svg>
</body>
</html>
